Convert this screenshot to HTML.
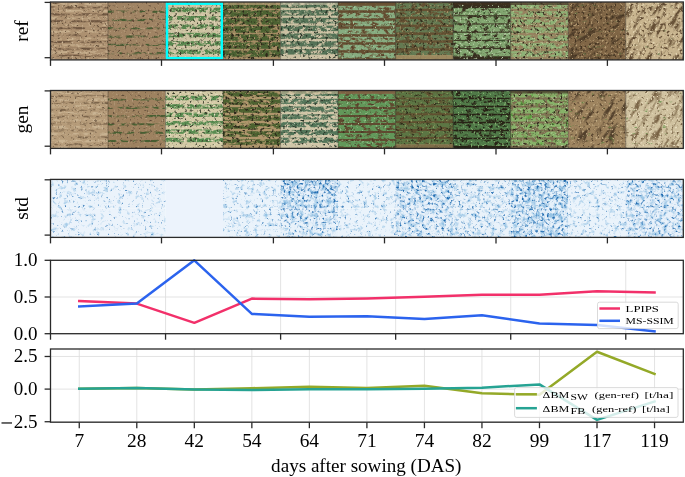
<!DOCTYPE html><html><head><meta charset="utf-8"><style>
html,body{margin:0;padding:0;background:#fff;}svg{display:block;will-change:transform;}
text{font-family:"Liberation Serif", serif;fill:#000;}
</style></head><body>
<svg width="685" height="477" viewBox="0 0 685 477">
<defs><filter id="f0" x="0" y="0" width="1" height="1" color-interpolation-filters="sRGB"><feTurbulence type="fractalNoise" baseFrequency="0.12 0.3" numOctaves="3" seed="101" result="t"/><feColorMatrix in="t" type="matrix" values="0 0 0 0 0  0 0 0 0 0  0 0 0 0 0  5.000 0 0 0 -2.150" result="m"/><feComposite in="SourceGraphic" in2="m" operator="in" result="c"/><feGaussianBlur in="c" stdDeviation="0.6"/></filter><filter id="f1" x="0" y="0" width="1" height="1" color-interpolation-filters="sRGB"><feTurbulence type="fractalNoise" baseFrequency="0.12 0.3" numOctaves="3" seed="102" result="t"/><feColorMatrix in="t" type="matrix" values="0 0 0 0 0  0 0 0 0 0  0 0 0 0 0  5.000 0 0 0 -2.150" result="m"/><feComposite in="SourceGraphic" in2="m" operator="in" result="c"/><feGaussianBlur in="c" stdDeviation="0.6"/></filter><filter id="f2" x="0" y="0" width="1" height="1" color-interpolation-filters="sRGB"><feTurbulence type="fractalNoise" baseFrequency="0.4" numOctaves="2" seed="103" result="t"/><feColorMatrix in="t" type="matrix" values="0 0 0 0 0  0 0 0 0 0  0 0 0 0 0  5.000 0 0 0 -3.100" result="m"/><feComposite in="SourceGraphic" in2="m" operator="in" result="c"/><feGaussianBlur in="c" stdDeviation="0.6"/></filter><filter id="f3" x="0" y="0" width="1" height="1" color-interpolation-filters="sRGB"><feTurbulence type="fractalNoise" baseFrequency="0.5" numOctaves="2" seed="104" result="t"/><feColorMatrix in="t" type="matrix" values="0 0 0 0 0  0 0 0 0 0  0 0 0 0 0  5.000 0 0 0 -3.100" result="m"/><feComposite in="SourceGraphic" in2="m" operator="in" result="c"/><feGaussianBlur in="c" stdDeviation="0.6"/></filter><filter id="f4" x="0" y="0" width="1" height="1" color-interpolation-filters="sRGB"><feTurbulence type="fractalNoise" baseFrequency="0.15 0.35" numOctaves="3" seed="111" result="t"/><feColorMatrix in="t" type="matrix" values="0 0 0 0 0  0 0 0 0 0  0 0 0 0 0  5.000 0 0 0 -2.100" result="m"/><feComposite in="SourceGraphic" in2="m" operator="in" result="c"/><feGaussianBlur in="c" stdDeviation="0.6"/></filter><filter id="f5" x="0" y="0" width="1" height="1" color-interpolation-filters="sRGB"><feTurbulence type="fractalNoise" baseFrequency="0.4" numOctaves="2" seed="112" result="t"/><feColorMatrix in="t" type="matrix" values="0 0 0 0 0  0 0 0 0 0  0 0 0 0 0  5.000 0 0 0 -3.050" result="m"/><feComposite in="SourceGraphic" in2="m" operator="in" result="c"/><feGaussianBlur in="c" stdDeviation="0.6"/></filter><filter id="f6" x="0" y="0" width="1" height="1" color-interpolation-filters="sRGB"><feTurbulence type="fractalNoise" baseFrequency="0.5" numOctaves="2" seed="113" result="t"/><feColorMatrix in="t" type="matrix" values="0 0 0 0 0  0 0 0 0 0  0 0 0 0 0  5.000 0 0 0 -3.150" result="m"/><feComposite in="SourceGraphic" in2="m" operator="in" result="c"/><feGaussianBlur in="c" stdDeviation="0.6"/></filter><filter id="f7" x="0" y="0" width="1" height="1" color-interpolation-filters="sRGB"><feTurbulence type="fractalNoise" baseFrequency="0.18 0.26" numOctaves="3" seed="121" result="t"/><feColorMatrix in="t" type="matrix" values="0 0 0 0 0  0 0 0 0 0  0 0 0 0 0  5.000 0 0 0 -1.700" result="m"/><feComposite in="SourceGraphic" in2="m" operator="in" result="c"/><feGaussianBlur in="c" stdDeviation="0.6"/></filter><filter id="f8" x="0" y="0" width="1" height="1" color-interpolation-filters="sRGB"><feTurbulence type="fractalNoise" baseFrequency="0.4" numOctaves="2" seed="122" result="t"/><feColorMatrix in="t" type="matrix" values="0 0 0 0 0  0 0 0 0 0  0 0 0 0 0  5.000 0 0 0 -2.850" result="m"/><feComposite in="SourceGraphic" in2="m" operator="in" result="c"/><feGaussianBlur in="c" stdDeviation="0.6"/></filter><filter id="f9" x="0" y="0" width="1" height="1" color-interpolation-filters="sRGB"><feTurbulence type="fractalNoise" baseFrequency="0.5" numOctaves="2" seed="123" result="t"/><feColorMatrix in="t" type="matrix" values="0 0 0 0 0  0 0 0 0 0  0 0 0 0 0  5.000 0 0 0 -3.000" result="m"/><feComposite in="SourceGraphic" in2="m" operator="in" result="c"/><feGaussianBlur in="c" stdDeviation="0.6"/></filter><filter id="f10" x="0" y="0" width="1" height="1" color-interpolation-filters="sRGB"><feTurbulence type="fractalNoise" baseFrequency="0.16 0.26" numOctaves="3" seed="131" result="t"/><feColorMatrix in="t" type="matrix" values="0 0 0 0 0  0 0 0 0 0  0 0 0 0 0  5.000 0 0 0 -1.400" result="m"/><feComposite in="SourceGraphic" in2="m" operator="in" result="c"/><feGaussianBlur in="c" stdDeviation="0.6"/></filter><filter id="f11" x="0" y="0" width="1" height="1" color-interpolation-filters="sRGB"><feTurbulence type="fractalNoise" baseFrequency="0.35" numOctaves="2" seed="132" result="t"/><feColorMatrix in="t" type="matrix" values="0 0 0 0 0  0 0 0 0 0  0 0 0 0 0  5.000 0 0 0 -2.700" result="m"/><feComposite in="SourceGraphic" in2="m" operator="in" result="c"/><feGaussianBlur in="c" stdDeviation="0.6"/></filter><filter id="f12" x="0" y="0" width="1" height="1" color-interpolation-filters="sRGB"><feTurbulence type="fractalNoise" baseFrequency="0.45" numOctaves="2" seed="133" result="t"/><feColorMatrix in="t" type="matrix" values="0 0 0 0 0  0 0 0 0 0  0 0 0 0 0  5.000 0 0 0 -3.200" result="m"/><feComposite in="SourceGraphic" in2="m" operator="in" result="c"/><feGaussianBlur in="c" stdDeviation="0.6"/></filter><filter id="f13" x="0" y="0" width="1" height="1" color-interpolation-filters="sRGB"><feTurbulence type="fractalNoise" baseFrequency="0.18 0.26" numOctaves="3" seed="141" result="t"/><feColorMatrix in="t" type="matrix" values="0 0 0 0 0  0 0 0 0 0  0 0 0 0 0  5.000 0 0 0 -1.550" result="m"/><feComposite in="SourceGraphic" in2="m" operator="in" result="c"/><feGaussianBlur in="c" stdDeviation="0.6"/></filter><filter id="f14" x="0" y="0" width="1" height="1" color-interpolation-filters="sRGB"><feTurbulence type="fractalNoise" baseFrequency="0.35" numOctaves="2" seed="142" result="t"/><feColorMatrix in="t" type="matrix" values="0 0 0 0 0  0 0 0 0 0  0 0 0 0 0  5.000 0 0 0 -2.850" result="m"/><feComposite in="SourceGraphic" in2="m" operator="in" result="c"/><feGaussianBlur in="c" stdDeviation="0.6"/></filter><filter id="f15" x="0" y="0" width="1" height="1" color-interpolation-filters="sRGB"><feTurbulence type="fractalNoise" baseFrequency="0.45" numOctaves="2" seed="143" result="t"/><feColorMatrix in="t" type="matrix" values="0 0 0 0 0  0 0 0 0 0  0 0 0 0 0  5.000 0 0 0 -3.300" result="m"/><feComposite in="SourceGraphic" in2="m" operator="in" result="c"/><feGaussianBlur in="c" stdDeviation="0.6"/></filter><filter id="f16" x="0" y="0" width="1" height="1" color-interpolation-filters="sRGB"><feTurbulence type="fractalNoise" baseFrequency="0.18 0.26" numOctaves="3" seed="151" result="t"/><feColorMatrix in="t" type="matrix" values="0 0 0 0 0  0 0 0 0 0  0 0 0 0 0  5.000 0 0 0 -1.600" result="m"/><feComposite in="SourceGraphic" in2="m" operator="in" result="c"/><feGaussianBlur in="c" stdDeviation="0.6"/></filter><filter id="f17" x="0" y="0" width="1" height="1" color-interpolation-filters="sRGB"><feTurbulence type="fractalNoise" baseFrequency="0.35" numOctaves="2" seed="152" result="t"/><feColorMatrix in="t" type="matrix" values="0 0 0 0 0  0 0 0 0 0  0 0 0 0 0  5.000 0 0 0 -3.200" result="m"/><feComposite in="SourceGraphic" in2="m" operator="in" result="c"/><feGaussianBlur in="c" stdDeviation="0.6"/></filter><filter id="f18" x="0" y="0" width="1" height="1" color-interpolation-filters="sRGB"><feTurbulence type="fractalNoise" baseFrequency="0.45" numOctaves="2" seed="153" result="t"/><feColorMatrix in="t" type="matrix" values="0 0 0 0 0  0 0 0 0 0  0 0 0 0 0  5.000 0 0 0 -3.200" result="m"/><feComposite in="SourceGraphic" in2="m" operator="in" result="c"/><feGaussianBlur in="c" stdDeviation="0.6"/></filter><filter id="f19" x="0" y="0" width="1" height="1" color-interpolation-filters="sRGB"><feTurbulence type="fractalNoise" baseFrequency="0.18 0.26" numOctaves="3" seed="161" result="t"/><feColorMatrix in="t" type="matrix" values="0 0 0 0 0  0 0 0 0 0  0 0 0 0 0  5.000 0 0 0 -1.550" result="m"/><feComposite in="SourceGraphic" in2="m" operator="in" result="c"/><feGaussianBlur in="c" stdDeviation="0.6"/></filter><filter id="f20" x="0" y="0" width="1" height="1" color-interpolation-filters="sRGB"><feTurbulence type="fractalNoise" baseFrequency="0.35" numOctaves="2" seed="162" result="t"/><feColorMatrix in="t" type="matrix" values="0 0 0 0 0  0 0 0 0 0  0 0 0 0 0  5.000 0 0 0 -2.900" result="m"/><feComposite in="SourceGraphic" in2="m" operator="in" result="c"/><feGaussianBlur in="c" stdDeviation="0.6"/></filter><filter id="f21" x="0" y="0" width="1" height="1" color-interpolation-filters="sRGB"><feTurbulence type="fractalNoise" baseFrequency="0.45" numOctaves="2" seed="163" result="t"/><feColorMatrix in="t" type="matrix" values="0 0 0 0 0  0 0 0 0 0  0 0 0 0 0  5.000 0 0 0 -3.100" result="m"/><feComposite in="SourceGraphic" in2="m" operator="in" result="c"/><feGaussianBlur in="c" stdDeviation="0.6"/></filter><filter id="f22" x="0" y="0" width="1" height="1" color-interpolation-filters="sRGB"><feTurbulence type="fractalNoise" baseFrequency="0.18 0.26" numOctaves="3" seed="171" result="t"/><feColorMatrix in="t" type="matrix" values="0 0 0 0 0  0 0 0 0 0  0 0 0 0 0  5.000 0 0 0 -1.450" result="m"/><feComposite in="SourceGraphic" in2="m" operator="in" result="c"/><feGaussianBlur in="c" stdDeviation="0.6"/></filter><filter id="f23" x="0" y="0" width="1" height="1" color-interpolation-filters="sRGB"><feTurbulence type="fractalNoise" baseFrequency="0.35" numOctaves="2" seed="172" result="t"/><feColorMatrix in="t" type="matrix" values="0 0 0 0 0  0 0 0 0 0  0 0 0 0 0  5.000 0 0 0 -3.050" result="m"/><feComposite in="SourceGraphic" in2="m" operator="in" result="c"/><feGaussianBlur in="c" stdDeviation="0.6"/></filter><filter id="f24" x="0" y="0" width="1" height="1" color-interpolation-filters="sRGB"><feTurbulence type="fractalNoise" baseFrequency="0.45" numOctaves="2" seed="173" result="t"/><feColorMatrix in="t" type="matrix" values="0 0 0 0 0  0 0 0 0 0  0 0 0 0 0  5.000 0 0 0 -3.000" result="m"/><feComposite in="SourceGraphic" in2="m" operator="in" result="c"/><feGaussianBlur in="c" stdDeviation="0.6"/></filter><filter id="f25" x="0" y="0" width="1" height="1" color-interpolation-filters="sRGB"><feTurbulence type="fractalNoise" baseFrequency="0.18 0.26" numOctaves="3" seed="181" result="t"/><feColorMatrix in="t" type="matrix" values="0 0 0 0 0  0 0 0 0 0  0 0 0 0 0  5.000 0 0 0 -1.700" result="m"/><feComposite in="SourceGraphic" in2="m" operator="in" result="c"/><feGaussianBlur in="c" stdDeviation="0.6"/></filter><filter id="f26" x="0" y="0" width="1" height="1" color-interpolation-filters="sRGB"><feTurbulence type="fractalNoise" baseFrequency="0.35" numOctaves="2" seed="182" result="t"/><feColorMatrix in="t" type="matrix" values="0 0 0 0 0  0 0 0 0 0  0 0 0 0 0  5.000 0 0 0 -2.800" result="m"/><feComposite in="SourceGraphic" in2="m" operator="in" result="c"/><feGaussianBlur in="c" stdDeviation="0.6"/></filter><filter id="f27" x="0" y="0" width="1" height="1" color-interpolation-filters="sRGB"><feTurbulence type="fractalNoise" baseFrequency="0.45" numOctaves="2" seed="183" result="t"/><feColorMatrix in="t" type="matrix" values="0 0 0 0 0  0 0 0 0 0  0 0 0 0 0  5.000 0 0 0 -3.000" result="m"/><feComposite in="SourceGraphic" in2="m" operator="in" result="c"/><feGaussianBlur in="c" stdDeviation="0.6"/></filter><filter id="f28" x="0" y="0" width="1" height="1" color-interpolation-filters="sRGB"><feTurbulence type="fractalNoise" baseFrequency="0.16 0.26" numOctaves="3" seed="191" result="t"/><feColorMatrix in="t" type="matrix" values="0 0 0 0 0  0 0 0 0 0  0 0 0 0 0  5.000 0 0 0 -3.000" result="m"/><feComposite in="SourceGraphic" in2="m" operator="in" result="c"/><feGaussianBlur in="c" stdDeviation="0.6"/></filter><filter id="f29" x="0" y="0" width="1" height="1" color-interpolation-filters="sRGB"><feTurbulence type="fractalNoise" baseFrequency="0.35" numOctaves="2" seed="193" result="t"/><feColorMatrix in="t" type="matrix" values="0 0 0 0 0  0 0 0 0 0  0 0 0 0 0  5.000 0 0 0 -2.800" result="m"/><feComposite in="SourceGraphic" in2="m" operator="in" result="c"/><feGaussianBlur in="c" stdDeviation="0.6"/></filter><filter id="f30" x="0" y="0" width="1" height="1" color-interpolation-filters="sRGB"><feTurbulence type="fractalNoise" baseFrequency="0.45" numOctaves="2" seed="194" result="t"/><feColorMatrix in="t" type="matrix" values="0 0 0 0 0  0 0 0 0 0  0 0 0 0 0  5.000 0 0 0 -2.950" result="m"/><feComposite in="SourceGraphic" in2="m" operator="in" result="c"/><feGaussianBlur in="c" stdDeviation="0.6"/></filter><filter id="f31" x="0" y="0" width="1" height="1" color-interpolation-filters="sRGB"><feTurbulence type="fractalNoise" baseFrequency="0.16 0.26" numOctaves="3" seed="201" result="t"/><feColorMatrix in="t" type="matrix" values="0 0 0 0 0  0 0 0 0 0  0 0 0 0 0  5.000 0 0 0 -3.300" result="m"/><feComposite in="SourceGraphic" in2="m" operator="in" result="c"/><feGaussianBlur in="c" stdDeviation="0.6"/></filter><filter id="f32" x="0" y="0" width="1" height="1" color-interpolation-filters="sRGB"><feTurbulence type="fractalNoise" baseFrequency="0.3" numOctaves="2" seed="203" result="t"/><feColorMatrix in="t" type="matrix" values="0 0 0 0 0  0 0 0 0 0  0 0 0 0 0  5.000 0 0 0 -2.800" result="m"/><feComposite in="SourceGraphic" in2="m" operator="in" result="c"/><feGaussianBlur in="c" stdDeviation="0.6"/></filter><filter id="f33" x="0" y="0" width="1" height="1" color-interpolation-filters="sRGB"><feTurbulence type="fractalNoise" baseFrequency="0.45" numOctaves="2" seed="204" result="t"/><feColorMatrix in="t" type="matrix" values="0 0 0 0 0  0 0 0 0 0  0 0 0 0 0  5.000 0 0 0 -2.900" result="m"/><feComposite in="SourceGraphic" in2="m" operator="in" result="c"/><feGaussianBlur in="c" stdDeviation="0.6"/></filter><filter id="f34" x="0" y="0" width="1" height="1" color-interpolation-filters="sRGB"><feTurbulence type="fractalNoise" baseFrequency="0.12 0.3" numOctaves="3" seed="301" result="t"/><feColorMatrix in="t" type="matrix" values="0 0 0 0 0  0 0 0 0 0  0 0 0 0 0  5.000 0 0 0 -2.200" result="m"/><feComposite in="SourceGraphic" in2="m" operator="in" result="c"/><feGaussianBlur in="c" stdDeviation="0.6"/></filter><filter id="f35" x="0" y="0" width="1" height="1" color-interpolation-filters="sRGB"><feTurbulence type="fractalNoise" baseFrequency="0.12 0.3" numOctaves="3" seed="302" result="t"/><feColorMatrix in="t" type="matrix" values="0 0 0 0 0  0 0 0 0 0  0 0 0 0 0  5.000 0 0 0 -2.200" result="m"/><feComposite in="SourceGraphic" in2="m" operator="in" result="c"/><feGaussianBlur in="c" stdDeviation="0.6"/></filter><filter id="f36" x="0" y="0" width="1" height="1" color-interpolation-filters="sRGB"><feTurbulence type="fractalNoise" baseFrequency="0.4" numOctaves="2" seed="303" result="t"/><feColorMatrix in="t" type="matrix" values="0 0 0 0 0  0 0 0 0 0  0 0 0 0 0  5.000 0 0 0 -3.150" result="m"/><feComposite in="SourceGraphic" in2="m" operator="in" result="c"/><feGaussianBlur in="c" stdDeviation="0.6"/></filter><filter id="f37" x="0" y="0" width="1" height="1" color-interpolation-filters="sRGB"><feTurbulence type="fractalNoise" baseFrequency="0.5" numOctaves="2" seed="304" result="t"/><feColorMatrix in="t" type="matrix" values="0 0 0 0 0  0 0 0 0 0  0 0 0 0 0  5.000 0 0 0 -3.150" result="m"/><feComposite in="SourceGraphic" in2="m" operator="in" result="c"/><feGaussianBlur in="c" stdDeviation="0.6"/></filter><filter id="f38" x="0" y="0" width="1" height="1" color-interpolation-filters="sRGB"><feTurbulence type="fractalNoise" baseFrequency="0.15 0.35" numOctaves="3" seed="311" result="t"/><feColorMatrix in="t" type="matrix" values="0 0 0 0 0  0 0 0 0 0  0 0 0 0 0  5.000 0 0 0 -2.100" result="m"/><feComposite in="SourceGraphic" in2="m" operator="in" result="c"/><feGaussianBlur in="c" stdDeviation="0.6"/></filter><filter id="f39" x="0" y="0" width="1" height="1" color-interpolation-filters="sRGB"><feTurbulence type="fractalNoise" baseFrequency="0.4" numOctaves="2" seed="312" result="t"/><feColorMatrix in="t" type="matrix" values="0 0 0 0 0  0 0 0 0 0  0 0 0 0 0  5.000 0 0 0 -3.100" result="m"/><feComposite in="SourceGraphic" in2="m" operator="in" result="c"/><feGaussianBlur in="c" stdDeviation="0.6"/></filter><filter id="f40" x="0" y="0" width="1" height="1" color-interpolation-filters="sRGB"><feTurbulence type="fractalNoise" baseFrequency="0.5" numOctaves="2" seed="313" result="t"/><feColorMatrix in="t" type="matrix" values="0 0 0 0 0  0 0 0 0 0  0 0 0 0 0  5.000 0 0 0 -3.150" result="m"/><feComposite in="SourceGraphic" in2="m" operator="in" result="c"/><feGaussianBlur in="c" stdDeviation="0.6"/></filter><filter id="f41" x="0" y="0" width="1" height="1" color-interpolation-filters="sRGB"><feTurbulence type="fractalNoise" baseFrequency="0.18 0.26" numOctaves="3" seed="321" result="t"/><feColorMatrix in="t" type="matrix" values="0 0 0 0 0  0 0 0 0 0  0 0 0 0 0  5.000 0 0 0 -1.650" result="m"/><feComposite in="SourceGraphic" in2="m" operator="in" result="c"/><feGaussianBlur in="c" stdDeviation="0.6"/></filter><filter id="f42" x="0" y="0" width="1" height="1" color-interpolation-filters="sRGB"><feTurbulence type="fractalNoise" baseFrequency="0.4" numOctaves="2" seed="322" result="t"/><feColorMatrix in="t" type="matrix" values="0 0 0 0 0  0 0 0 0 0  0 0 0 0 0  5.000 0 0 0 -2.900" result="m"/><feComposite in="SourceGraphic" in2="m" operator="in" result="c"/><feGaussianBlur in="c" stdDeviation="0.6"/></filter><filter id="f43" x="0" y="0" width="1" height="1" color-interpolation-filters="sRGB"><feTurbulence type="fractalNoise" baseFrequency="0.5" numOctaves="2" seed="323" result="t"/><feColorMatrix in="t" type="matrix" values="0 0 0 0 0  0 0 0 0 0  0 0 0 0 0  5.000 0 0 0 -3.000" result="m"/><feComposite in="SourceGraphic" in2="m" operator="in" result="c"/><feGaussianBlur in="c" stdDeviation="0.6"/></filter><filter id="f44" x="0" y="0" width="1" height="1" color-interpolation-filters="sRGB"><feTurbulence type="fractalNoise" baseFrequency="0.12 0.3" numOctaves="3" seed="331" result="t"/><feColorMatrix in="t" type="matrix" values="0 0 0 0 0  0 0 0 0 0  0 0 0 0 0  5.000 0 0 0 -1.550" result="m"/><feComposite in="SourceGraphic" in2="m" operator="in" result="c"/><feGaussianBlur in="c" stdDeviation="0.6"/></filter><filter id="f45" x="0" y="0" width="1" height="1" color-interpolation-filters="sRGB"><feTurbulence type="fractalNoise" baseFrequency="0.35" numOctaves="2" seed="332" result="t"/><feColorMatrix in="t" type="matrix" values="0 0 0 0 0  0 0 0 0 0  0 0 0 0 0  5.000 0 0 0 -2.750" result="m"/><feComposite in="SourceGraphic" in2="m" operator="in" result="c"/><feGaussianBlur in="c" stdDeviation="0.6"/></filter><filter id="f46" x="0" y="0" width="1" height="1" color-interpolation-filters="sRGB"><feTurbulence type="fractalNoise" baseFrequency="0.45" numOctaves="2" seed="333" result="t"/><feColorMatrix in="t" type="matrix" values="0 0 0 0 0  0 0 0 0 0  0 0 0 0 0  5.000 0 0 0 -3.200" result="m"/><feComposite in="SourceGraphic" in2="m" operator="in" result="c"/><feGaussianBlur in="c" stdDeviation="0.6"/></filter><filter id="f47" x="0" y="0" width="1" height="1" color-interpolation-filters="sRGB"><feTurbulence type="fractalNoise" baseFrequency="0.18 0.26" numOctaves="3" seed="341" result="t"/><feColorMatrix in="t" type="matrix" values="0 0 0 0 0  0 0 0 0 0  0 0 0 0 0  5.000 0 0 0 -1.600" result="m"/><feComposite in="SourceGraphic" in2="m" operator="in" result="c"/><feGaussianBlur in="c" stdDeviation="0.6"/></filter><filter id="f48" x="0" y="0" width="1" height="1" color-interpolation-filters="sRGB"><feTurbulence type="fractalNoise" baseFrequency="0.35" numOctaves="2" seed="342" result="t"/><feColorMatrix in="t" type="matrix" values="0 0 0 0 0  0 0 0 0 0  0 0 0 0 0  5.000 0 0 0 -2.900" result="m"/><feComposite in="SourceGraphic" in2="m" operator="in" result="c"/><feGaussianBlur in="c" stdDeviation="0.6"/></filter><filter id="f49" x="0" y="0" width="1" height="1" color-interpolation-filters="sRGB"><feTurbulence type="fractalNoise" baseFrequency="0.45" numOctaves="2" seed="343" result="t"/><feColorMatrix in="t" type="matrix" values="0 0 0 0 0  0 0 0 0 0  0 0 0 0 0  5.000 0 0 0 -3.250" result="m"/><feComposite in="SourceGraphic" in2="m" operator="in" result="c"/><feGaussianBlur in="c" stdDeviation="0.6"/></filter><filter id="f50" x="0" y="0" width="1" height="1" color-interpolation-filters="sRGB"><feTurbulence type="fractalNoise" baseFrequency="0.18 0.26" numOctaves="3" seed="351" result="t"/><feColorMatrix in="t" type="matrix" values="0 0 0 0 0  0 0 0 0 0  0 0 0 0 0  5.000 0 0 0 -1.450" result="m"/><feComposite in="SourceGraphic" in2="m" operator="in" result="c"/><feGaussianBlur in="c" stdDeviation="0.6"/></filter><filter id="f51" x="0" y="0" width="1" height="1" color-interpolation-filters="sRGB"><feTurbulence type="fractalNoise" baseFrequency="0.35" numOctaves="2" seed="352" result="t"/><feColorMatrix in="t" type="matrix" values="0 0 0 0 0  0 0 0 0 0  0 0 0 0 0  5.000 0 0 0 -3.150" result="m"/><feComposite in="SourceGraphic" in2="m" operator="in" result="c"/><feGaussianBlur in="c" stdDeviation="0.6"/></filter><filter id="f52" x="0" y="0" width="1" height="1" color-interpolation-filters="sRGB"><feTurbulence type="fractalNoise" baseFrequency="0.45" numOctaves="2" seed="353" result="t"/><feColorMatrix in="t" type="matrix" values="0 0 0 0 0  0 0 0 0 0  0 0 0 0 0  5.000 0 0 0 -3.150" result="m"/><feComposite in="SourceGraphic" in2="m" operator="in" result="c"/><feGaussianBlur in="c" stdDeviation="0.6"/></filter><filter id="f53" x="0" y="0" width="1" height="1" color-interpolation-filters="sRGB"><feTurbulence type="fractalNoise" baseFrequency="0.18 0.26" numOctaves="3" seed="361" result="t"/><feColorMatrix in="t" type="matrix" values="0 0 0 0 0  0 0 0 0 0  0 0 0 0 0  5.000 0 0 0 -1.400" result="m"/><feComposite in="SourceGraphic" in2="m" operator="in" result="c"/><feGaussianBlur in="c" stdDeviation="0.6"/></filter><filter id="f54" x="0" y="0" width="1" height="1" color-interpolation-filters="sRGB"><feTurbulence type="fractalNoise" baseFrequency="0.35" numOctaves="2" seed="362" result="t"/><feColorMatrix in="t" type="matrix" values="0 0 0 0 0  0 0 0 0 0  0 0 0 0 0  5.000 0 0 0 -2.850" result="m"/><feComposite in="SourceGraphic" in2="m" operator="in" result="c"/><feGaussianBlur in="c" stdDeviation="0.6"/></filter><filter id="f55" x="0" y="0" width="1" height="1" color-interpolation-filters="sRGB"><feTurbulence type="fractalNoise" baseFrequency="0.45" numOctaves="2" seed="363" result="t"/><feColorMatrix in="t" type="matrix" values="0 0 0 0 0  0 0 0 0 0  0 0 0 0 0  5.000 0 0 0 -3.200" result="m"/><feComposite in="SourceGraphic" in2="m" operator="in" result="c"/><feGaussianBlur in="c" stdDeviation="0.6"/></filter><filter id="f56" x="0" y="0" width="1" height="1" color-interpolation-filters="sRGB"><feTurbulence type="fractalNoise" baseFrequency="0.18 0.26" numOctaves="3" seed="371" result="t"/><feColorMatrix in="t" type="matrix" values="0 0 0 0 0  0 0 0 0 0  0 0 0 0 0  5.000 0 0 0 -1.350" result="m"/><feComposite in="SourceGraphic" in2="m" operator="in" result="c"/><feGaussianBlur in="c" stdDeviation="0.6"/></filter><filter id="f57" x="0" y="0" width="1" height="1" color-interpolation-filters="sRGB"><feTurbulence type="fractalNoise" baseFrequency="0.35" numOctaves="2" seed="372" result="t"/><feColorMatrix in="t" type="matrix" values="0 0 0 0 0  0 0 0 0 0  0 0 0 0 0  5.000 0 0 0 -3.100" result="m"/><feComposite in="SourceGraphic" in2="m" operator="in" result="c"/><feGaussianBlur in="c" stdDeviation="0.6"/></filter><filter id="f58" x="0" y="0" width="1" height="1" color-interpolation-filters="sRGB"><feTurbulence type="fractalNoise" baseFrequency="0.45" numOctaves="2" seed="373" result="t"/><feColorMatrix in="t" type="matrix" values="0 0 0 0 0  0 0 0 0 0  0 0 0 0 0  5.000 0 0 0 -3.000" result="m"/><feComposite in="SourceGraphic" in2="m" operator="in" result="c"/><feGaussianBlur in="c" stdDeviation="0.6"/></filter><filter id="f59" x="0" y="0" width="1" height="1" color-interpolation-filters="sRGB"><feTurbulence type="fractalNoise" baseFrequency="0.18 0.26" numOctaves="3" seed="381" result="t"/><feColorMatrix in="t" type="matrix" values="0 0 0 0 0  0 0 0 0 0  0 0 0 0 0  5.000 0 0 0 -1.600" result="m"/><feComposite in="SourceGraphic" in2="m" operator="in" result="c"/><feGaussianBlur in="c" stdDeviation="0.6"/></filter><filter id="f60" x="0" y="0" width="1" height="1" color-interpolation-filters="sRGB"><feTurbulence type="fractalNoise" baseFrequency="0.35" numOctaves="2" seed="382" result="t"/><feColorMatrix in="t" type="matrix" values="0 0 0 0 0  0 0 0 0 0  0 0 0 0 0  5.000 0 0 0 -2.850" result="m"/><feComposite in="SourceGraphic" in2="m" operator="in" result="c"/><feGaussianBlur in="c" stdDeviation="0.6"/></filter><filter id="f61" x="0" y="0" width="1" height="1" color-interpolation-filters="sRGB"><feTurbulence type="fractalNoise" baseFrequency="0.45" numOctaves="2" seed="383" result="t"/><feColorMatrix in="t" type="matrix" values="0 0 0 0 0  0 0 0 0 0  0 0 0 0 0  5.000 0 0 0 -3.000" result="m"/><feComposite in="SourceGraphic" in2="m" operator="in" result="c"/><feGaussianBlur in="c" stdDeviation="0.6"/></filter><filter id="f62" x="0" y="0" width="1" height="1" color-interpolation-filters="sRGB"><feTurbulence type="fractalNoise" baseFrequency="0.15" numOctaves="2" seed="384" result="t"/><feColorMatrix in="t" type="matrix" values="0 0 0 0 0  0 0 0 0 0  0 0 0 0 0  5.000 0 0 0 -3.300" result="m"/><feComposite in="SourceGraphic" in2="m" operator="in" result="c"/><feGaussianBlur in="c" stdDeviation="0.6"/></filter><filter id="f63" x="0" y="0" width="1" height="1" color-interpolation-filters="sRGB"><feTurbulence type="fractalNoise" baseFrequency="0.16 0.26" numOctaves="3" seed="391" result="t"/><feColorMatrix in="t" type="matrix" values="0 0 0 0 0  0 0 0 0 0  0 0 0 0 0  5.000 0 0 0 -3.200" result="m"/><feComposite in="SourceGraphic" in2="m" operator="in" result="c"/><feGaussianBlur in="c" stdDeviation="0.6"/></filter><filter id="f64" x="0" y="0" width="1" height="1" color-interpolation-filters="sRGB"><feTurbulence type="fractalNoise" baseFrequency="0.35" numOctaves="2" seed="393" result="t"/><feColorMatrix in="t" type="matrix" values="0 0 0 0 0  0 0 0 0 0  0 0 0 0 0  5.000 0 0 0 -2.900" result="m"/><feComposite in="SourceGraphic" in2="m" operator="in" result="c"/><feGaussianBlur in="c" stdDeviation="0.6"/></filter><filter id="f65" x="0" y="0" width="1" height="1" color-interpolation-filters="sRGB"><feTurbulence type="fractalNoise" baseFrequency="0.45" numOctaves="2" seed="394" result="t"/><feColorMatrix in="t" type="matrix" values="0 0 0 0 0  0 0 0 0 0  0 0 0 0 0  5.000 0 0 0 -3.000" result="m"/><feComposite in="SourceGraphic" in2="m" operator="in" result="c"/><feGaussianBlur in="c" stdDeviation="0.6"/></filter><filter id="f66" x="0" y="0" width="1" height="1" color-interpolation-filters="sRGB"><feTurbulence type="fractalNoise" baseFrequency="0.12" numOctaves="2" seed="395" result="t"/><feColorMatrix in="t" type="matrix" values="0 0 0 0 0  0 0 0 0 0  0 0 0 0 0  5.000 0 0 0 -3.500" result="m"/><feComposite in="SourceGraphic" in2="m" operator="in" result="c"/><feGaussianBlur in="c" stdDeviation="0.6"/></filter><filter id="f67" x="0" y="0" width="1" height="1" color-interpolation-filters="sRGB"><feTurbulence type="fractalNoise" baseFrequency="0.16 0.26" numOctaves="3" seed="401" result="t"/><feColorMatrix in="t" type="matrix" values="0 0 0 0 0  0 0 0 0 0  0 0 0 0 0  5.000 0 0 0 -3.200" result="m"/><feComposite in="SourceGraphic" in2="m" operator="in" result="c"/><feGaussianBlur in="c" stdDeviation="0.6"/></filter><filter id="f68" x="0" y="0" width="1" height="1" color-interpolation-filters="sRGB"><feTurbulence type="fractalNoise" baseFrequency="0.35" numOctaves="2" seed="403" result="t"/><feColorMatrix in="t" type="matrix" values="0 0 0 0 0  0 0 0 0 0  0 0 0 0 0  5.000 0 0 0 -2.900" result="m"/><feComposite in="SourceGraphic" in2="m" operator="in" result="c"/><feGaussianBlur in="c" stdDeviation="0.6"/></filter><filter id="f69" x="0" y="0" width="1" height="1" color-interpolation-filters="sRGB"><feTurbulence type="fractalNoise" baseFrequency="0.45" numOctaves="2" seed="404" result="t"/><feColorMatrix in="t" type="matrix" values="0 0 0 0 0  0 0 0 0 0  0 0 0 0 0  5.000 0 0 0 -2.900" result="m"/><feComposite in="SourceGraphic" in2="m" operator="in" result="c"/><feGaussianBlur in="c" stdDeviation="0.6"/></filter><filter id="f70" x="0" y="0" width="1" height="1" color-interpolation-filters="sRGB"><feTurbulence type="fractalNoise" baseFrequency="0.22" numOctaves="3" seed="20" result="t"/><feColorMatrix in="t" type="matrix" values="0 0 0 0 0  0 0 0 0 0  0 0 0 0 0  3.000 0 0 0 -1.650" result="m"/><feComposite in="SourceGraphic" in2="m" operator="in" result="c"/><feGaussianBlur in="c" stdDeviation="0.6"/></filter><filter id="f71" x="0" y="0" width="1" height="1" color-interpolation-filters="sRGB"><feTurbulence type="fractalNoise" baseFrequency="0.36" numOctaves="2" seed="40" result="t"/><feColorMatrix in="t" type="matrix" values="0 0 0 0 0  0 0 0 0 0  0 0 0 0 0  4.000 0 0 0 -2.600" result="m"/><feComposite in="SourceGraphic" in2="m" operator="in" result="c"/><feGaussianBlur in="c" stdDeviation="0.6"/></filter><filter id="f72" x="0" y="0" width="1" height="1" color-interpolation-filters="sRGB"><feTurbulence type="fractalNoise" baseFrequency="0.22" numOctaves="3" seed="20" result="t"/><feColorMatrix in="t" type="matrix" values="0 0 0 0 0  0 0 0 0 0  0 0 0 0 0  3.000 0 0 0 -1.680" result="m"/><feComposite in="SourceGraphic" in2="m" operator="in" result="c"/><feGaussianBlur in="c" stdDeviation="0.6"/></filter><filter id="f73" x="0" y="0" width="1" height="1" color-interpolation-filters="sRGB"><feTurbulence type="fractalNoise" baseFrequency="0.36" numOctaves="2" seed="40" result="t"/><feColorMatrix in="t" type="matrix" values="0 0 0 0 0  0 0 0 0 0  0 0 0 0 0  4.000 0 0 0 -2.640" result="m"/><feComposite in="SourceGraphic" in2="m" operator="in" result="c"/><feGaussianBlur in="c" stdDeviation="0.6"/></filter><filter id="f74" x="0" y="0" width="1" height="1" color-interpolation-filters="sRGB"><feTurbulence type="fractalNoise" baseFrequency="0.22" numOctaves="3" seed="20" result="t"/><feColorMatrix in="t" type="matrix" values="0 0 0 0 0  0 0 0 0 0  0 0 0 0 0  3.000 0 0 0 -1.710" result="m"/><feComposite in="SourceGraphic" in2="m" operator="in" result="c"/><feGaussianBlur in="c" stdDeviation="0.6"/></filter><filter id="f75" x="0" y="0" width="1" height="1" color-interpolation-filters="sRGB"><feTurbulence type="fractalNoise" baseFrequency="0.22" numOctaves="3" seed="21" result="t"/><feColorMatrix in="t" type="matrix" values="0 0 0 0 0  0 0 0 0 0  0 0 0 0 0  3.000 0 0 0 -1.740" result="m"/><feComposite in="SourceGraphic" in2="m" operator="in" result="c"/><feGaussianBlur in="c" stdDeviation="0.6"/></filter><filter id="f76" x="0" y="0" width="1" height="1" color-interpolation-filters="sRGB"><feTurbulence type="fractalNoise" baseFrequency="0.36" numOctaves="2" seed="41" result="t"/><feColorMatrix in="t" type="matrix" values="0 0 0 0 0  0 0 0 0 0  0 0 0 0 0  4.000 0 0 0 -2.680" result="m"/><feComposite in="SourceGraphic" in2="m" operator="in" result="c"/><feGaussianBlur in="c" stdDeviation="0.6"/></filter><filter id="f77" x="0" y="0" width="1" height="1" color-interpolation-filters="sRGB"><feTurbulence type="fractalNoise" baseFrequency="0.22" numOctaves="3" seed="23" result="t"/><feColorMatrix in="t" type="matrix" values="0 0 0 0 0  0 0 0 0 0  0 0 0 0 0  3.000 0 0 0 -1.650" result="m"/><feComposite in="SourceGraphic" in2="m" operator="in" result="c"/><feGaussianBlur in="c" stdDeviation="0.6"/></filter><filter id="f78" x="0" y="0" width="1" height="1" color-interpolation-filters="sRGB"><feTurbulence type="fractalNoise" baseFrequency="0.36" numOctaves="2" seed="43" result="t"/><feColorMatrix in="t" type="matrix" values="0 0 0 0 0  0 0 0 0 0  0 0 0 0 0  4.000 0 0 0 -2.600" result="m"/><feComposite in="SourceGraphic" in2="m" operator="in" result="c"/><feGaussianBlur in="c" stdDeviation="0.6"/></filter><filter id="f79" x="0" y="0" width="1" height="1" color-interpolation-filters="sRGB"><feTurbulence type="fractalNoise" baseFrequency="0.36" numOctaves="2" seed="43" result="t"/><feColorMatrix in="t" type="matrix" values="0 0 0 0 0  0 0 0 0 0  0 0 0 0 0  4.000 0 0 0 -2.560" result="m"/><feComposite in="SourceGraphic" in2="m" operator="in" result="c"/><feGaussianBlur in="c" stdDeviation="0.6"/></filter><filter id="f80" x="0" y="0" width="1" height="1" color-interpolation-filters="sRGB"><feTurbulence type="fractalNoise" baseFrequency="0.22" numOctaves="3" seed="23" result="t"/><feColorMatrix in="t" type="matrix" values="0 0 0 0 0  0 0 0 0 0  0 0 0 0 0  3.000 0 0 0 -1.620" result="m"/><feComposite in="SourceGraphic" in2="m" operator="in" result="c"/><feGaussianBlur in="c" stdDeviation="0.6"/></filter><filter id="f81" x="0" y="0" width="1" height="1" color-interpolation-filters="sRGB"><feTurbulence type="fractalNoise" baseFrequency="0.22" numOctaves="3" seed="24" result="t"/><feColorMatrix in="t" type="matrix" values="0 0 0 0 0  0 0 0 0 0  0 0 0 0 0  3.000 0 0 0 -1.230" result="m"/><feComposite in="SourceGraphic" in2="m" operator="in" result="c"/><feGaussianBlur in="c" stdDeviation="0.6"/></filter><filter id="f82" x="0" y="0" width="1" height="1" color-interpolation-filters="sRGB"><feTurbulence type="fractalNoise" baseFrequency="0.36" numOctaves="2" seed="44" result="t"/><feColorMatrix in="t" type="matrix" values="0 0 0 0 0  0 0 0 0 0  0 0 0 0 0  4.000 0 0 0 -2.040" result="m"/><feComposite in="SourceGraphic" in2="m" operator="in" result="c"/><feGaussianBlur in="c" stdDeviation="0.6"/></filter><filter id="f83" x="0" y="0" width="1" height="1" color-interpolation-filters="sRGB"><feTurbulence type="fractalNoise" baseFrequency="0.22" numOctaves="3" seed="24" result="t"/><feColorMatrix in="t" type="matrix" values="0 0 0 0 0  0 0 0 0 0  0 0 0 0 0  3.000 0 0 0 -1.290" result="m"/><feComposite in="SourceGraphic" in2="m" operator="in" result="c"/><feGaussianBlur in="c" stdDeviation="0.6"/></filter><filter id="f84" x="0" y="0" width="1" height="1" color-interpolation-filters="sRGB"><feTurbulence type="fractalNoise" baseFrequency="0.36" numOctaves="2" seed="44" result="t"/><feColorMatrix in="t" type="matrix" values="0 0 0 0 0  0 0 0 0 0  0 0 0 0 0  4.000 0 0 0 -2.160" result="m"/><feComposite in="SourceGraphic" in2="m" operator="in" result="c"/><feGaussianBlur in="c" stdDeviation="0.6"/></filter><filter id="f85" x="0" y="0" width="1" height="1" color-interpolation-filters="sRGB"><feTurbulence type="fractalNoise" baseFrequency="0.22" numOctaves="3" seed="24" result="t"/><feColorMatrix in="t" type="matrix" values="0 0 0 0 0  0 0 0 0 0  0 0 0 0 0  3.000 0 0 0 -1.380" result="m"/><feComposite in="SourceGraphic" in2="m" operator="in" result="c"/><feGaussianBlur in="c" stdDeviation="0.6"/></filter><filter id="f86" x="0" y="0" width="1" height="1" color-interpolation-filters="sRGB"><feTurbulence type="fractalNoise" baseFrequency="0.36" numOctaves="2" seed="44" result="t"/><feColorMatrix in="t" type="matrix" values="0 0 0 0 0  0 0 0 0 0  0 0 0 0 0  4.000 0 0 0 -2.240" result="m"/><feComposite in="SourceGraphic" in2="m" operator="in" result="c"/><feGaussianBlur in="c" stdDeviation="0.6"/></filter><filter id="f87" x="0" y="0" width="1" height="1" color-interpolation-filters="sRGB"><feTurbulence type="fractalNoise" baseFrequency="0.22" numOctaves="3" seed="24" result="t"/><feColorMatrix in="t" type="matrix" values="0 0 0 0 0  0 0 0 0 0  0 0 0 0 0  3.000 0 0 0 -1.470" result="m"/><feComposite in="SourceGraphic" in2="m" operator="in" result="c"/><feGaussianBlur in="c" stdDeviation="0.6"/></filter><filter id="f88" x="0" y="0" width="1" height="1" color-interpolation-filters="sRGB"><feTurbulence type="fractalNoise" baseFrequency="0.36" numOctaves="2" seed="44" result="t"/><feColorMatrix in="t" type="matrix" values="0 0 0 0 0  0 0 0 0 0  0 0 0 0 0  4.000 0 0 0 -2.360" result="m"/><feComposite in="SourceGraphic" in2="m" operator="in" result="c"/><feGaussianBlur in="c" stdDeviation="0.6"/></filter><filter id="f89" x="0" y="0" width="1" height="1" color-interpolation-filters="sRGB"><feTurbulence type="fractalNoise" baseFrequency="0.22" numOctaves="3" seed="25" result="t"/><feColorMatrix in="t" type="matrix" values="0 0 0 0 0  0 0 0 0 0  0 0 0 0 0  3.000 0 0 0 -1.650" result="m"/><feComposite in="SourceGraphic" in2="m" operator="in" result="c"/><feGaussianBlur in="c" stdDeviation="0.6"/></filter><filter id="f90" x="0" y="0" width="1" height="1" color-interpolation-filters="sRGB"><feTurbulence type="fractalNoise" baseFrequency="0.36" numOctaves="2" seed="45" result="t"/><feColorMatrix in="t" type="matrix" values="0 0 0 0 0  0 0 0 0 0  0 0 0 0 0  4.000 0 0 0 -2.560" result="m"/><feComposite in="SourceGraphic" in2="m" operator="in" result="c"/><feGaussianBlur in="c" stdDeviation="0.6"/></filter><filter id="f91" x="0" y="0" width="1" height="1" color-interpolation-filters="sRGB"><feTurbulence type="fractalNoise" baseFrequency="0.22" numOctaves="3" seed="26" result="t"/><feColorMatrix in="t" type="matrix" values="0 0 0 0 0  0 0 0 0 0  0 0 0 0 0  3.000 0 0 0 -1.320" result="m"/><feComposite in="SourceGraphic" in2="m" operator="in" result="c"/><feGaussianBlur in="c" stdDeviation="0.6"/></filter><filter id="f92" x="0" y="0" width="1" height="1" color-interpolation-filters="sRGB"><feTurbulence type="fractalNoise" baseFrequency="0.36" numOctaves="2" seed="46" result="t"/><feColorMatrix in="t" type="matrix" values="0 0 0 0 0  0 0 0 0 0  0 0 0 0 0  4.000 0 0 0 -2.160" result="m"/><feComposite in="SourceGraphic" in2="m" operator="in" result="c"/><feGaussianBlur in="c" stdDeviation="0.6"/></filter><filter id="f93" x="0" y="0" width="1" height="1" color-interpolation-filters="sRGB"><feTurbulence type="fractalNoise" baseFrequency="0.22" numOctaves="3" seed="26" result="t"/><feColorMatrix in="t" type="matrix" values="0 0 0 0 0  0 0 0 0 0  0 0 0 0 0  3.000 0 0 0 -1.350" result="m"/><feComposite in="SourceGraphic" in2="m" operator="in" result="c"/><feGaussianBlur in="c" stdDeviation="0.6"/></filter><filter id="f94" x="0" y="0" width="1" height="1" color-interpolation-filters="sRGB"><feTurbulence type="fractalNoise" baseFrequency="0.36" numOctaves="2" seed="46" result="t"/><feColorMatrix in="t" type="matrix" values="0 0 0 0 0  0 0 0 0 0  0 0 0 0 0  4.000 0 0 0 -2.200" result="m"/><feComposite in="SourceGraphic" in2="m" operator="in" result="c"/><feGaussianBlur in="c" stdDeviation="0.6"/></filter><filter id="f95" x="0" y="0" width="1" height="1" color-interpolation-filters="sRGB"><feTurbulence type="fractalNoise" baseFrequency="0.22" numOctaves="3" seed="26" result="t"/><feColorMatrix in="t" type="matrix" values="0 0 0 0 0  0 0 0 0 0  0 0 0 0 0  3.000 0 0 0 -1.410" result="m"/><feComposite in="SourceGraphic" in2="m" operator="in" result="c"/><feGaussianBlur in="c" stdDeviation="0.6"/></filter><filter id="f96" x="0" y="0" width="1" height="1" color-interpolation-filters="sRGB"><feTurbulence type="fractalNoise" baseFrequency="0.36" numOctaves="2" seed="46" result="t"/><feColorMatrix in="t" type="matrix" values="0 0 0 0 0  0 0 0 0 0  0 0 0 0 0  4.000 0 0 0 -2.280" result="m"/><feComposite in="SourceGraphic" in2="m" operator="in" result="c"/><feGaussianBlur in="c" stdDeviation="0.6"/></filter><filter id="f97" x="0" y="0" width="1" height="1" color-interpolation-filters="sRGB"><feTurbulence type="fractalNoise" baseFrequency="0.22" numOctaves="3" seed="26" result="t"/><feColorMatrix in="t" type="matrix" values="0 0 0 0 0  0 0 0 0 0  0 0 0 0 0  3.000 0 0 0 -1.440" result="m"/><feComposite in="SourceGraphic" in2="m" operator="in" result="c"/><feGaussianBlur in="c" stdDeviation="0.6"/></filter><filter id="f98" x="0" y="0" width="1" height="1" color-interpolation-filters="sRGB"><feTurbulence type="fractalNoise" baseFrequency="0.36" numOctaves="2" seed="46" result="t"/><feColorMatrix in="t" type="matrix" values="0 0 0 0 0  0 0 0 0 0  0 0 0 0 0  4.000 0 0 0 -2.320" result="m"/><feComposite in="SourceGraphic" in2="m" operator="in" result="c"/><feGaussianBlur in="c" stdDeviation="0.6"/></filter><filter id="f99" x="0" y="0" width="1" height="1" color-interpolation-filters="sRGB"><feTurbulence type="fractalNoise" baseFrequency="0.22" numOctaves="3" seed="27" result="t"/><feColorMatrix in="t" type="matrix" values="0 0 0 0 0  0 0 0 0 0  0 0 0 0 0  3.000 0 0 0 -1.500" result="m"/><feComposite in="SourceGraphic" in2="m" operator="in" result="c"/><feGaussianBlur in="c" stdDeviation="0.6"/></filter><filter id="f100" x="0" y="0" width="1" height="1" color-interpolation-filters="sRGB"><feTurbulence type="fractalNoise" baseFrequency="0.36" numOctaves="2" seed="47" result="t"/><feColorMatrix in="t" type="matrix" values="0 0 0 0 0  0 0 0 0 0  0 0 0 0 0  4.000 0 0 0 -2.400" result="m"/><feComposite in="SourceGraphic" in2="m" operator="in" result="c"/><feGaussianBlur in="c" stdDeviation="0.6"/></filter><filter id="f101" x="0" y="0" width="1" height="1" color-interpolation-filters="sRGB"><feTurbulence type="fractalNoise" baseFrequency="0.22" numOctaves="3" seed="28" result="t"/><feColorMatrix in="t" type="matrix" values="0 0 0 0 0  0 0 0 0 0  0 0 0 0 0  3.000 0 0 0 -1.230" result="m"/><feComposite in="SourceGraphic" in2="m" operator="in" result="c"/><feGaussianBlur in="c" stdDeviation="0.6"/></filter><filter id="f102" x="0" y="0" width="1" height="1" color-interpolation-filters="sRGB"><feTurbulence type="fractalNoise" baseFrequency="0.36" numOctaves="2" seed="48" result="t"/><feColorMatrix in="t" type="matrix" values="0 0 0 0 0  0 0 0 0 0  0 0 0 0 0  4.000 0 0 0 -2.080" result="m"/><feComposite in="SourceGraphic" in2="m" operator="in" result="c"/><feGaussianBlur in="c" stdDeviation="0.6"/></filter><filter id="f103" x="0" y="0" width="1" height="1" color-interpolation-filters="sRGB"><feTurbulence type="fractalNoise" baseFrequency="0.22" numOctaves="3" seed="28" result="t"/><feColorMatrix in="t" type="matrix" values="0 0 0 0 0  0 0 0 0 0  0 0 0 0 0  3.000 0 0 0 -1.260" result="m"/><feComposite in="SourceGraphic" in2="m" operator="in" result="c"/><feGaussianBlur in="c" stdDeviation="0.6"/></filter><filter id="f104" x="0" y="0" width="1" height="1" color-interpolation-filters="sRGB"><feTurbulence type="fractalNoise" baseFrequency="0.36" numOctaves="2" seed="48" result="t"/><feColorMatrix in="t" type="matrix" values="0 0 0 0 0  0 0 0 0 0  0 0 0 0 0  4.000 0 0 0 -2.120" result="m"/><feComposite in="SourceGraphic" in2="m" operator="in" result="c"/><feGaussianBlur in="c" stdDeviation="0.6"/></filter><filter id="f105" x="0" y="0" width="1" height="1" color-interpolation-filters="sRGB"><feTurbulence type="fractalNoise" baseFrequency="0.22" numOctaves="3" seed="28" result="t"/><feColorMatrix in="t" type="matrix" values="0 0 0 0 0  0 0 0 0 0  0 0 0 0 0  3.000 0 0 0 -1.290" result="m"/><feComposite in="SourceGraphic" in2="m" operator="in" result="c"/><feGaussianBlur in="c" stdDeviation="0.6"/></filter><filter id="f106" x="0" y="0" width="1" height="1" color-interpolation-filters="sRGB"><feTurbulence type="fractalNoise" baseFrequency="0.36" numOctaves="2" seed="48" result="t"/><feColorMatrix in="t" type="matrix" values="0 0 0 0 0  0 0 0 0 0  0 0 0 0 0  4.000 0 0 0 -2.160" result="m"/><feComposite in="SourceGraphic" in2="m" operator="in" result="c"/><feGaussianBlur in="c" stdDeviation="0.6"/></filter><filter id="f107" x="0" y="0" width="1" height="1" color-interpolation-filters="sRGB"><feTurbulence type="fractalNoise" baseFrequency="0.22" numOctaves="3" seed="29" result="t"/><feColorMatrix in="t" type="matrix" values="0 0 0 0 0  0 0 0 0 0  0 0 0 0 0  3.000 0 0 0 -1.620" result="m"/><feComposite in="SourceGraphic" in2="m" operator="in" result="c"/><feGaussianBlur in="c" stdDeviation="0.6"/></filter><filter id="f108" x="0" y="0" width="1" height="1" color-interpolation-filters="sRGB"><feTurbulence type="fractalNoise" baseFrequency="0.36" numOctaves="2" seed="49" result="t"/><feColorMatrix in="t" type="matrix" values="0 0 0 0 0  0 0 0 0 0  0 0 0 0 0  4.000 0 0 0 -2.560" result="m"/><feComposite in="SourceGraphic" in2="m" operator="in" result="c"/><feGaussianBlur in="c" stdDeviation="0.6"/></filter><filter id="f109" x="0" y="0" width="1" height="1" color-interpolation-filters="sRGB"><feTurbulence type="fractalNoise" baseFrequency="0.22" numOctaves="3" seed="30" result="t"/><feColorMatrix in="t" type="matrix" values="0 0 0 0 0  0 0 0 0 0  0 0 0 0 0  3.000 0 0 0 -1.350" result="m"/><feComposite in="SourceGraphic" in2="m" operator="in" result="c"/><feGaussianBlur in="c" stdDeviation="0.6"/></filter><filter id="f110" x="0" y="0" width="1" height="1" color-interpolation-filters="sRGB"><feTurbulence type="fractalNoise" baseFrequency="0.36" numOctaves="2" seed="50" result="t"/><feColorMatrix in="t" type="matrix" values="0 0 0 0 0  0 0 0 0 0  0 0 0 0 0  4.000 0 0 0 -2.200" result="m"/><feComposite in="SourceGraphic" in2="m" operator="in" result="c"/><feGaussianBlur in="c" stdDeviation="0.6"/></filter><filter id="f111" x="0" y="0" width="1" height="1" color-interpolation-filters="sRGB"><feTurbulence type="fractalNoise" baseFrequency="0.22" numOctaves="3" seed="30" result="t"/><feColorMatrix in="t" type="matrix" values="0 0 0 0 0  0 0 0 0 0  0 0 0 0 0  3.000 0 0 0 -1.380" result="m"/><feComposite in="SourceGraphic" in2="m" operator="in" result="c"/><feGaussianBlur in="c" stdDeviation="0.6"/></filter><filter id="f112" x="0" y="0" width="1" height="1" color-interpolation-filters="sRGB"><feTurbulence type="fractalNoise" baseFrequency="0.36" numOctaves="2" seed="50" result="t"/><feColorMatrix in="t" type="matrix" values="0 0 0 0 0  0 0 0 0 0  0 0 0 0 0  4.000 0 0 0 -2.240" result="m"/><feComposite in="SourceGraphic" in2="m" operator="in" result="c"/><feGaussianBlur in="c" stdDeviation="0.6"/></filter><filter id="f113" x="0" y="0" width="1" height="1" color-interpolation-filters="sRGB"><feTurbulence type="fractalNoise" baseFrequency="0.36" numOctaves="2" seed="50" result="t"/><feColorMatrix in="t" type="matrix" values="0 0 0 0 0  0 0 0 0 0  0 0 0 0 0  4.000 0 0 0 -2.280" result="m"/><feComposite in="SourceGraphic" in2="m" operator="in" result="c"/><feGaussianBlur in="c" stdDeviation="0.6"/></filter><filter id="f114" x="0" y="0" width="1" height="1" color-interpolation-filters="sRGB"><feTurbulence type="fractalNoise" baseFrequency="0.22" numOctaves="3" seed="30" result="t"/><feColorMatrix in="t" type="matrix" values="0 0 0 0 0  0 0 0 0 0  0 0 0 0 0  3.000 0 0 0 -1.410" result="m"/><feComposite in="SourceGraphic" in2="m" operator="in" result="c"/><feGaussianBlur in="c" stdDeviation="0.6"/></filter><filter id="s0" x="0" y="0" width="1" height="1" color-interpolation-filters="sRGB"><feTurbulence type="fractalNoise" baseFrequency="0.07 0.22" numOctaves="2" seed="192" result="t"/><feColorMatrix in="t" type="matrix" values="0 0 0 0 0  0 0 0 0 0  0 0 0 0 0  5.000 0 0 0 -2.700" result="m"/><feComposite in="SourceGraphic" in2="m" operator="in" result="c"/><feGaussianBlur in="c" stdDeviation="0.5"/></filter><filter id="s1" x="0" y="0" width="1" height="1" color-interpolation-filters="sRGB"><feTurbulence type="fractalNoise" baseFrequency="0.06 0.22" numOctaves="2" seed="202" result="t"/><feColorMatrix in="t" type="matrix" values="0 0 0 0 0  0 0 0 0 0  0 0 0 0 0  5.000 0 0 0 -2.600" result="m"/><feComposite in="SourceGraphic" in2="m" operator="in" result="c"/><feGaussianBlur in="c" stdDeviation="0.5"/></filter><filter id="s2" x="0" y="0" width="1" height="1" color-interpolation-filters="sRGB"><feTurbulence type="fractalNoise" baseFrequency="0.06 0.22" numOctaves="2" seed="392" result="t"/><feColorMatrix in="t" type="matrix" values="0 0 0 0 0  0 0 0 0 0  0 0 0 0 0  5.000 0 0 0 -2.650" result="m"/><feComposite in="SourceGraphic" in2="m" operator="in" result="c"/><feGaussianBlur in="c" stdDeviation="0.5"/></filter><filter id="s3" x="0" y="0" width="1" height="1" color-interpolation-filters="sRGB"><feTurbulence type="fractalNoise" baseFrequency="0.06 0.22" numOctaves="2" seed="402" result="t"/><feColorMatrix in="t" type="matrix" values="0 0 0 0 0  0 0 0 0 0  0 0 0 0 0  5.000 0 0 0 -2.650" result="m"/><feComposite in="SourceGraphic" in2="m" operator="in" result="c"/><feGaussianBlur in="c" stdDeviation="0.5"/></filter><clipPath id="c0"><rect x="568.25" y="2.00" width="57.58" height="57.90"/></clipPath><clipPath id="c1"><rect x="625.77" y="2.00" width="57.58" height="57.90"/></clipPath><clipPath id="c2"><rect x="568.25" y="90.50" width="57.58" height="57.90"/></clipPath><clipPath id="c3"><rect x="625.77" y="90.50" width="57.58" height="57.90"/></clipPath></defs>
<rect x="0" y="0" width="685" height="477" fill="#fff"/>
<rect x="50.50" y="2.00" width="57.58" height="57.90" fill="rgb(172,144,112)"/>
<g fill="rgb(112,88,66)" filter="url(#f0)"><rect x="50.50" y="6.40" width="57.58" height="2.20"/><rect x="50.50" y="13.30" width="57.58" height="2.20"/><rect x="50.50" y="20.20" width="57.58" height="2.20"/><rect x="50.50" y="27.10" width="57.58" height="2.20"/><rect x="50.50" y="34.00" width="57.58" height="2.20"/><rect x="50.50" y="40.90" width="57.58" height="2.20"/><rect x="50.50" y="47.80" width="57.58" height="2.20"/><rect x="50.50" y="54.70" width="57.58" height="2.20"/></g>
<g fill="rgb(196,172,138)" filter="url(#f1)"><rect x="50.50" y="2.90" width="57.58" height="2.60"/><rect x="50.50" y="9.80" width="57.58" height="2.60"/><rect x="50.50" y="16.70" width="57.58" height="2.60"/><rect x="50.50" y="23.60" width="57.58" height="2.60"/><rect x="50.50" y="30.50" width="57.58" height="2.60"/><rect x="50.50" y="37.40" width="57.58" height="2.60"/><rect x="50.50" y="44.30" width="57.58" height="2.60"/><rect x="50.50" y="51.20" width="57.58" height="2.60"/><rect x="50.50" y="58.10" width="57.58" height="1.80"/></g>
<rect x="50.50" y="2.00" width="57.58" height="57.90" fill="rgb(95,75,55)" filter="url(#f2)"/>
<rect x="50.50" y="2.00" width="57.58" height="57.90" fill="rgb(208,186,154)" filter="url(#f3)"/>
<rect x="108.03" y="2.00" width="57.58" height="57.90" fill="rgb(160,132,100)"/>
<g fill="rgb(70,92,50)" filter="url(#f4)"><rect x="108.03" y="10.60" width="57.58" height="2.20"/><rect x="108.03" y="18.90" width="57.58" height="2.20"/><rect x="108.03" y="27.20" width="57.58" height="2.20"/><rect x="108.03" y="35.50" width="57.58" height="2.20"/><rect x="108.03" y="43.80" width="57.58" height="2.20"/><rect x="108.03" y="52.10" width="57.58" height="2.20"/></g>
<rect x="108.03" y="2.00" width="57.58" height="57.90" fill="rgb(90,70,52)" filter="url(#f5)"/>
<rect x="108.03" y="2.00" width="57.58" height="57.90" fill="rgb(188,165,132)" filter="url(#f6)"/>
<rect x="165.55" y="2.00" width="57.58" height="57.90" fill="rgb(205,195,162)"/>
<g fill="rgb(88,135,78)" filter="url(#f7)"><rect x="165.55" y="7.60" width="57.58" height="4.60"/><rect x="165.55" y="16.00" width="57.58" height="4.60"/><rect x="165.55" y="24.40" width="57.58" height="4.60"/><rect x="165.55" y="32.80" width="57.58" height="4.60"/><rect x="165.55" y="41.20" width="57.58" height="4.60"/><rect x="165.55" y="49.60" width="57.58" height="4.60"/></g>
<rect x="165.55" y="2.00" width="57.58" height="57.90" fill="rgb(55,55,38)" filter="url(#f8)"/>
<rect x="165.55" y="2.00" width="57.58" height="57.90" fill="rgb(228,218,190)" filter="url(#f9)"/>
<rect x="223.08" y="2.00" width="57.58" height="57.90" fill="rgb(165,140,100)"/>
<g fill="rgb(75,98,50)" filter="url(#f10)"><rect x="223.08" y="2.25" width="57.58" height="6.50"/><rect x="223.08" y="10.25" width="57.58" height="6.50"/><rect x="223.08" y="18.25" width="57.58" height="6.50"/><rect x="223.08" y="26.25" width="57.58" height="6.50"/><rect x="223.08" y="34.25" width="57.58" height="6.50"/><rect x="223.08" y="42.25" width="57.58" height="6.50"/><rect x="223.08" y="50.25" width="57.58" height="6.50"/></g>
<rect x="223.08" y="2.00" width="57.58" height="57.90" fill="rgb(45,40,26)" filter="url(#f11)"/>
<rect x="223.08" y="2.00" width="57.58" height="57.90" fill="rgb(185,160,118)" filter="url(#f12)"/>
<rect x="223.08" y="2.00" width="57.58" height="3.00" fill="rgb(185,160,120)" opacity="0.70"/>
<rect x="280.61" y="2.00" width="57.58" height="57.90" fill="rgb(202,192,162)"/>
<g fill="rgb(84,114,86)" filter="url(#f13)"><rect x="280.61" y="2.25" width="57.58" height="5.50"/><rect x="280.61" y="10.05" width="57.58" height="5.50"/><rect x="280.61" y="17.85" width="57.58" height="5.50"/><rect x="280.61" y="25.65" width="57.58" height="5.50"/><rect x="280.61" y="33.45" width="57.58" height="5.50"/><rect x="280.61" y="41.25" width="57.58" height="5.50"/><rect x="280.61" y="49.05" width="57.58" height="5.50"/></g>
<rect x="280.61" y="2.00" width="57.58" height="57.90" fill="rgb(42,55,42)" filter="url(#f14)"/>
<rect x="280.61" y="2.00" width="57.58" height="57.90" fill="rgb(225,218,195)" filter="url(#f15)"/>
<rect x="280.61" y="2.00" width="57.58" height="3.00" fill="rgb(210,200,172)" opacity="0.60"/>
<rect x="338.14" y="2.00" width="57.58" height="57.90" fill="rgb(100,76,48)"/>
<g fill="rgb(135,172,128)" filter="url(#f16)"><rect x="338.14" y="4.75" width="57.58" height="5.50"/><rect x="338.14" y="12.75" width="57.58" height="5.50"/><rect x="338.14" y="20.75" width="57.58" height="5.50"/><rect x="338.14" y="28.75" width="57.58" height="5.50"/><rect x="338.14" y="36.75" width="57.58" height="5.50"/><rect x="338.14" y="44.75" width="57.58" height="5.50"/><rect x="338.14" y="52.75" width="57.58" height="5.50"/></g>
<rect x="338.14" y="2.00" width="57.58" height="57.90" fill="rgb(70,55,35)" filter="url(#f17)"/>
<rect x="338.14" y="2.00" width="57.58" height="57.90" fill="rgb(165,200,160)" filter="url(#f18)"/>
<rect x="338.14" y="2.00" width="57.58" height="4.00" fill="rgb(105,80,50)" opacity="0.80"/>
<rect x="395.66" y="2.00" width="57.58" height="57.90" fill="rgb(100,80,50)"/>
<g fill="rgb(100,122,82)" filter="url(#f19)"><rect x="395.66" y="3.25" width="57.58" height="5.50"/><rect x="395.66" y="11.15" width="57.58" height="5.50"/><rect x="395.66" y="19.05" width="57.58" height="5.50"/><rect x="395.66" y="26.95" width="57.58" height="5.50"/><rect x="395.66" y="34.85" width="57.58" height="5.50"/><rect x="395.66" y="42.75" width="57.58" height="5.50"/><rect x="395.66" y="50.65" width="57.58" height="5.50"/></g>
<rect x="395.66" y="2.00" width="57.58" height="57.90" fill="rgb(52,46,28)" filter="url(#f20)"/>
<rect x="395.66" y="2.00" width="57.58" height="57.90" fill="rgb(165,150,105)" filter="url(#f21)"/>
<rect x="395.66" y="55.00" width="57.58" height="4.90" fill="rgb(170,150,105)" opacity="0.80"/>
<rect x="453.19" y="2.00" width="57.58" height="57.90" fill="rgb(55,45,30)"/>
<g fill="rgb(130,166,112)" filter="url(#f22)"><rect x="453.19" y="8.10" width="57.58" height="7.20"/><rect x="453.19" y="16.30" width="57.58" height="7.20"/><rect x="453.19" y="24.50" width="57.58" height="7.20"/><rect x="453.19" y="32.70" width="57.58" height="7.20"/><rect x="453.19" y="40.90" width="57.58" height="7.20"/><rect x="453.19" y="49.10" width="57.58" height="7.20"/></g>
<rect x="453.19" y="2.00" width="57.58" height="57.90" fill="rgb(62,88,50)" filter="url(#f23)"/>
<rect x="453.19" y="2.00" width="57.58" height="57.90" fill="rgb(188,210,172)" filter="url(#f24)"/>
<rect x="453.19" y="2.00" width="57.58" height="3.00" fill="rgb(62,48,30)" opacity="0.80"/>
<rect x="510.72" y="2.00" width="57.58" height="57.90" fill="rgb(150,130,95)"/>
<g fill="rgb(142,178,118)" filter="url(#f25)"><rect x="510.72" y="3.25" width="57.58" height="5.50"/><rect x="510.72" y="11.25" width="57.58" height="5.50"/><rect x="510.72" y="19.25" width="57.58" height="5.50"/><rect x="510.72" y="27.25" width="57.58" height="5.50"/><rect x="510.72" y="35.25" width="57.58" height="5.50"/><rect x="510.72" y="43.25" width="57.58" height="5.50"/><rect x="510.72" y="51.25" width="57.58" height="5.50"/></g>
<rect x="510.72" y="2.00" width="57.58" height="57.90" fill="rgb(50,42,28)" filter="url(#f26)"/>
<rect x="510.72" y="2.00" width="57.58" height="57.90" fill="rgb(185,200,150)" filter="url(#f27)"/>
<rect x="510.72" y="2.00" width="57.58" height="3.00" fill="rgb(70,55,38)" opacity="0.70"/>
<rect x="568.25" y="2.00" width="57.58" height="57.90" fill="rgb(128,102,70)"/>
<g fill="rgb(92,104,62)" filter="url(#f28)"><rect x="568.25" y="4.50" width="57.58" height="3.00"/><rect x="568.25" y="12.50" width="57.58" height="3.00"/><rect x="568.25" y="20.50" width="57.58" height="3.00"/><rect x="568.25" y="28.50" width="57.58" height="3.00"/><rect x="568.25" y="36.50" width="57.58" height="3.00"/><rect x="568.25" y="44.50" width="57.58" height="3.00"/><rect x="568.25" y="52.50" width="57.58" height="3.00"/></g>
<g clip-path="url(#c0)"><rect x="552.03" y="-14.05" width="90.00" height="90.00" fill="rgb(80,62,42)" filter="url(#s0)" transform="rotate(-35.0 597.03 30.95)"/></g>
<rect x="568.25" y="2.00" width="57.58" height="57.90" fill="rgb(68,52,34)" filter="url(#f29)"/>
<rect x="568.25" y="2.00" width="57.58" height="57.90" fill="rgb(180,155,115)" filter="url(#f30)"/>
<rect x="625.77" y="2.00" width="57.58" height="57.90" fill="rgb(200,180,142)"/>
<g fill="rgb(120,135,90)" filter="url(#f31)"><rect x="625.77" y="4.50" width="57.58" height="3.00"/><rect x="625.77" y="12.50" width="57.58" height="3.00"/><rect x="625.77" y="20.50" width="57.58" height="3.00"/><rect x="625.77" y="28.50" width="57.58" height="3.00"/><rect x="625.77" y="36.50" width="57.58" height="3.00"/><rect x="625.77" y="44.50" width="57.58" height="3.00"/><rect x="625.77" y="52.50" width="57.58" height="3.00"/></g>
<g clip-path="url(#c1)"><rect x="609.56" y="-14.05" width="90.00" height="90.00" fill="rgb(100,78,52)" filter="url(#s1)" transform="rotate(-60.0 654.56 30.95)"/></g>
<rect x="625.77" y="2.00" width="57.58" height="57.90" fill="rgb(96,74,50)" filter="url(#f32)"/>
<rect x="625.77" y="2.00" width="57.58" height="57.90" fill="rgb(225,210,175)" filter="url(#f33)"/>
<line x1="108.03" x2="108.03" y1="2.00" y2="59.90" stroke="#000" stroke-opacity="0.28" stroke-width="1"/>
<line x1="165.55" x2="165.55" y1="2.00" y2="59.90" stroke="#000" stroke-opacity="0.28" stroke-width="1"/>
<line x1="223.08" x2="223.08" y1="2.00" y2="59.90" stroke="#000" stroke-opacity="0.28" stroke-width="1"/>
<line x1="280.61" x2="280.61" y1="2.00" y2="59.90" stroke="#000" stroke-opacity="0.28" stroke-width="1"/>
<line x1="338.14" x2="338.14" y1="2.00" y2="59.90" stroke="#000" stroke-opacity="0.28" stroke-width="1"/>
<line x1="395.66" x2="395.66" y1="2.00" y2="59.90" stroke="#000" stroke-opacity="0.28" stroke-width="1"/>
<line x1="453.19" x2="453.19" y1="2.00" y2="59.90" stroke="#000" stroke-opacity="0.28" stroke-width="1"/>
<line x1="510.72" x2="510.72" y1="2.00" y2="59.90" stroke="#000" stroke-opacity="0.28" stroke-width="1"/>
<line x1="568.25" x2="568.25" y1="2.00" y2="59.90" stroke="#000" stroke-opacity="0.28" stroke-width="1"/>
<line x1="625.77" x2="625.77" y1="2.00" y2="59.90" stroke="#000" stroke-opacity="0.28" stroke-width="1"/>
<rect x="167.0" y="3.7" width="54.8" height="54.4" fill="none" stroke="#00ffff" stroke-width="2.4"/>
<rect x="50.50" y="2.00" width="632.80" height="57.90" fill="none" stroke="#2a2a2a" stroke-width="1.30"/>
<line x1="44.6" x2="50.50" y1="2.40" y2="2.40" stroke="#2a2a2a" stroke-width="1.30"/>
<line x1="44.6" x2="50.50" y1="57.70" y2="57.70" stroke="#2a2a2a" stroke-width="1.30"/>
<line x1="50.50" x2="50.50" y1="59.90" y2="65.90" stroke="#2a2a2a" stroke-width="1.30"/>
<line x1="161.50" x2="161.50" y1="59.90" y2="65.90" stroke="#2a2a2a" stroke-width="1.30"/>
<line x1="273.40" x2="273.40" y1="59.90" y2="65.90" stroke="#2a2a2a" stroke-width="1.30"/>
<line x1="384.50" x2="384.50" y1="59.90" y2="65.90" stroke="#2a2a2a" stroke-width="1.30"/>
<line x1="496.00" x2="496.00" y1="59.90" y2="65.90" stroke="#2a2a2a" stroke-width="1.30"/>
<line x1="607.40" x2="607.40" y1="59.90" y2="65.90" stroke="#2a2a2a" stroke-width="1.30"/>
<rect x="50.50" y="90.50" width="57.58" height="57.90" fill="rgb(182,156,122)"/>
<g fill="rgb(125,102,76)" filter="url(#f34)"><rect x="50.50" y="95.00" width="57.58" height="2.00"/><rect x="50.50" y="101.90" width="57.58" height="2.00"/><rect x="50.50" y="108.80" width="57.58" height="2.00"/><rect x="50.50" y="115.70" width="57.58" height="2.00"/><rect x="50.50" y="122.60" width="57.58" height="2.00"/><rect x="50.50" y="129.50" width="57.58" height="2.00"/><rect x="50.50" y="136.40" width="57.58" height="2.00"/><rect x="50.50" y="143.30" width="57.58" height="2.00"/></g>
<g fill="rgb(200,178,145)" filter="url(#f35)"><rect x="50.50" y="91.40" width="57.58" height="2.60"/><rect x="50.50" y="98.30" width="57.58" height="2.60"/><rect x="50.50" y="105.20" width="57.58" height="2.60"/><rect x="50.50" y="112.10" width="57.58" height="2.60"/><rect x="50.50" y="119.00" width="57.58" height="2.60"/><rect x="50.50" y="125.90" width="57.58" height="2.60"/><rect x="50.50" y="132.80" width="57.58" height="2.60"/><rect x="50.50" y="139.70" width="57.58" height="2.60"/><rect x="50.50" y="146.60" width="57.58" height="1.80"/></g>
<rect x="50.50" y="90.50" width="57.58" height="57.90" fill="rgb(105,85,64)" filter="url(#f36)"/>
<rect x="50.50" y="90.50" width="57.58" height="57.90" fill="rgb(210,190,160)" filter="url(#f37)"/>
<rect x="108.03" y="90.50" width="57.58" height="57.90" fill="rgb(158,130,96)"/>
<g fill="rgb(72,95,50)" filter="url(#f38)"><rect x="108.03" y="98.40" width="57.58" height="2.20"/><rect x="108.03" y="106.70" width="57.58" height="2.20"/><rect x="108.03" y="115.00" width="57.58" height="2.20"/><rect x="108.03" y="123.30" width="57.58" height="2.20"/><rect x="108.03" y="131.60" width="57.58" height="2.20"/><rect x="108.03" y="139.90" width="57.58" height="2.20"/></g>
<rect x="108.03" y="90.50" width="57.58" height="57.90" fill="rgb(90,72,54)" filter="url(#f39)"/>
<rect x="108.03" y="90.50" width="57.58" height="57.90" fill="rgb(185,162,130)" filter="url(#f40)"/>
<rect x="165.55" y="90.50" width="57.58" height="57.90" fill="rgb(212,202,166)"/>
<g fill="rgb(88,140,80)" filter="url(#f41)"><rect x="165.55" y="95.80" width="57.58" height="4.40"/><rect x="165.55" y="104.20" width="57.58" height="4.40"/><rect x="165.55" y="112.60" width="57.58" height="4.40"/><rect x="165.55" y="121.00" width="57.58" height="4.40"/><rect x="165.55" y="129.40" width="57.58" height="4.40"/><rect x="165.55" y="137.80" width="57.58" height="4.40"/></g>
<rect x="165.55" y="90.50" width="57.58" height="57.90" fill="rgb(50,55,38)" filter="url(#f42)"/>
<rect x="165.55" y="90.50" width="57.58" height="57.90" fill="rgb(232,225,198)" filter="url(#f43)"/>
<rect x="223.08" y="90.50" width="57.58" height="57.90" fill="rgb(175,150,108)"/>
<g fill="rgb(76,98,48)" filter="url(#f44)"><rect x="223.08" y="91.25" width="57.58" height="5.50"/><rect x="223.08" y="99.25" width="57.58" height="5.50"/><rect x="223.08" y="107.25" width="57.58" height="5.50"/><rect x="223.08" y="115.25" width="57.58" height="5.50"/><rect x="223.08" y="123.25" width="57.58" height="5.50"/><rect x="223.08" y="131.25" width="57.58" height="5.50"/><rect x="223.08" y="139.25" width="57.58" height="5.50"/></g>
<rect x="223.08" y="90.50" width="57.58" height="57.90" fill="rgb(42,38,25)" filter="url(#f45)"/>
<rect x="223.08" y="90.50" width="57.58" height="57.90" fill="rgb(190,165,122)" filter="url(#f46)"/>
<rect x="280.61" y="90.50" width="57.58" height="57.90" fill="rgb(208,198,168)"/>
<g fill="rgb(84,118,90)" filter="url(#f47)"><rect x="280.61" y="90.90" width="57.58" height="5.20"/><rect x="280.61" y="98.70" width="57.58" height="5.20"/><rect x="280.61" y="106.50" width="57.58" height="5.20"/><rect x="280.61" y="114.30" width="57.58" height="5.20"/><rect x="280.61" y="122.10" width="57.58" height="5.20"/><rect x="280.61" y="129.90" width="57.58" height="5.20"/><rect x="280.61" y="137.70" width="57.58" height="5.20"/></g>
<rect x="280.61" y="90.50" width="57.58" height="57.90" fill="rgb(42,55,42)" filter="url(#f48)"/>
<rect x="280.61" y="90.50" width="57.58" height="57.90" fill="rgb(228,220,198)" filter="url(#f49)"/>
<rect x="280.61" y="90.50" width="57.58" height="3.50" fill="rgb(200,185,150)" opacity="0.60"/>
<rect x="338.14" y="90.50" width="57.58" height="57.90" fill="rgb(95,74,48)"/>
<g fill="rgb(98,152,90)" filter="url(#f50)"><rect x="338.14" y="93.00" width="57.58" height="6.00"/><rect x="338.14" y="101.00" width="57.58" height="6.00"/><rect x="338.14" y="109.00" width="57.58" height="6.00"/><rect x="338.14" y="117.00" width="57.58" height="6.00"/><rect x="338.14" y="125.00" width="57.58" height="6.00"/><rect x="338.14" y="133.00" width="57.58" height="6.00"/><rect x="338.14" y="141.00" width="57.58" height="6.00"/></g>
<rect x="338.14" y="90.50" width="57.58" height="57.90" fill="rgb(60,48,32)" filter="url(#f51)"/>
<rect x="338.14" y="90.50" width="57.58" height="57.90" fill="rgb(160,200,150)" filter="url(#f52)"/>
<rect x="338.14" y="90.50" width="57.58" height="3.50" fill="rgb(130,102,70)" opacity="0.85"/>
<rect x="395.66" y="90.50" width="57.58" height="57.90" fill="rgb(95,80,48)"/>
<g fill="rgb(92,118,68)" filter="url(#f53)"><rect x="395.66" y="91.50" width="57.58" height="6.00"/><rect x="395.66" y="99.40" width="57.58" height="6.00"/><rect x="395.66" y="107.30" width="57.58" height="6.00"/><rect x="395.66" y="115.20" width="57.58" height="6.00"/><rect x="395.66" y="123.10" width="57.58" height="6.00"/><rect x="395.66" y="131.00" width="57.58" height="6.00"/><rect x="395.66" y="138.90" width="57.58" height="6.00"/></g>
<rect x="395.66" y="90.50" width="57.58" height="57.90" fill="rgb(45,40,24)" filter="url(#f54)"/>
<rect x="395.66" y="90.50" width="57.58" height="57.90" fill="rgb(150,160,100)" filter="url(#f55)"/>
<rect x="395.66" y="144.00" width="57.58" height="4.40" fill="rgb(150,130,90)" opacity="0.60"/>
<rect x="453.19" y="90.50" width="57.58" height="57.90" fill="rgb(40,35,22)"/>
<g fill="rgb(80,122,72)" filter="url(#f56)"><rect x="453.19" y="91.25" width="57.58" height="6.50"/><rect x="453.19" y="99.25" width="57.58" height="6.50"/><rect x="453.19" y="107.25" width="57.58" height="6.50"/><rect x="453.19" y="115.25" width="57.58" height="6.50"/><rect x="453.19" y="123.25" width="57.58" height="6.50"/><rect x="453.19" y="131.25" width="57.58" height="6.50"/><rect x="453.19" y="139.25" width="57.58" height="6.50"/></g>
<rect x="453.19" y="90.50" width="57.58" height="57.90" fill="rgb(30,28,18)" filter="url(#f57)"/>
<rect x="453.19" y="90.50" width="57.58" height="57.90" fill="rgb(140,190,120)" filter="url(#f58)"/>
<rect x="510.72" y="90.50" width="57.58" height="57.90" fill="rgb(125,110,80)"/>
<g fill="rgb(135,178,105)" filter="url(#f59)"><rect x="510.72" y="91.50" width="57.58" height="6.00"/><rect x="510.72" y="99.50" width="57.58" height="6.00"/><rect x="510.72" y="107.50" width="57.58" height="6.00"/><rect x="510.72" y="115.50" width="57.58" height="6.00"/><rect x="510.72" y="123.50" width="57.58" height="6.00"/><rect x="510.72" y="131.50" width="57.58" height="6.00"/><rect x="510.72" y="139.50" width="57.58" height="6.00"/></g>
<rect x="510.72" y="90.50" width="57.58" height="57.90" fill="rgb(45,38,26)" filter="url(#f60)"/>
<rect x="510.72" y="90.50" width="57.58" height="57.90" fill="rgb(180,200,150)" filter="url(#f61)"/>
<rect x="510.72" y="90.50" width="57.58" height="57.90" fill="rgb(85,170,60)" filter="url(#f62)"/>
<rect x="510.72" y="90.50" width="57.58" height="3.00" fill="rgb(70,58,40)" opacity="0.70"/>
<rect x="568.25" y="90.50" width="57.58" height="57.90" fill="rgb(158,132,95)"/>
<g fill="rgb(96,130,66)" filter="url(#f63)"><rect x="568.25" y="93.00" width="57.58" height="3.00"/><rect x="568.25" y="101.00" width="57.58" height="3.00"/><rect x="568.25" y="109.00" width="57.58" height="3.00"/><rect x="568.25" y="117.00" width="57.58" height="3.00"/><rect x="568.25" y="125.00" width="57.58" height="3.00"/><rect x="568.25" y="133.00" width="57.58" height="3.00"/><rect x="568.25" y="141.00" width="57.58" height="3.00"/></g>
<g clip-path="url(#c2)"><rect x="552.03" y="74.45" width="90.00" height="90.00" fill="rgb(82,64,44)" filter="url(#s2)" transform="rotate(-60.0 597.03 119.45)"/></g>
<rect x="568.25" y="90.50" width="57.58" height="57.90" fill="rgb(85,66,45)" filter="url(#f64)"/>
<rect x="568.25" y="90.50" width="57.58" height="57.90" fill="rgb(195,172,132)" filter="url(#f65)"/>
<rect x="568.25" y="90.50" width="57.58" height="57.90" fill="rgb(90,130,60)" filter="url(#f66)"/>
<rect x="625.77" y="90.50" width="57.58" height="57.90" fill="rgb(208,194,160)"/>
<g fill="rgb(120,155,90)" filter="url(#f67)"><rect x="625.77" y="93.00" width="57.58" height="3.00"/><rect x="625.77" y="101.00" width="57.58" height="3.00"/><rect x="625.77" y="109.00" width="57.58" height="3.00"/><rect x="625.77" y="117.00" width="57.58" height="3.00"/><rect x="625.77" y="125.00" width="57.58" height="3.00"/><rect x="625.77" y="133.00" width="57.58" height="3.00"/><rect x="625.77" y="141.00" width="57.58" height="3.00"/></g>
<g clip-path="url(#c3)"><rect x="609.56" y="74.45" width="90.00" height="90.00" fill="rgb(120,98,68)" filter="url(#s3)" transform="rotate(-60.0 654.56 119.45)"/></g>
<rect x="625.77" y="90.50" width="57.58" height="57.90" fill="rgb(120,100,70)" filter="url(#f68)"/>
<rect x="625.77" y="90.50" width="57.58" height="57.90" fill="rgb(230,218,188)" filter="url(#f69)"/>
<line x1="108.03" x2="108.03" y1="90.50" y2="148.40" stroke="#000" stroke-opacity="0.28" stroke-width="1"/>
<line x1="165.55" x2="165.55" y1="90.50" y2="148.40" stroke="#000" stroke-opacity="0.28" stroke-width="1"/>
<line x1="223.08" x2="223.08" y1="90.50" y2="148.40" stroke="#000" stroke-opacity="0.28" stroke-width="1"/>
<line x1="280.61" x2="280.61" y1="90.50" y2="148.40" stroke="#000" stroke-opacity="0.28" stroke-width="1"/>
<line x1="338.14" x2="338.14" y1="90.50" y2="148.40" stroke="#000" stroke-opacity="0.28" stroke-width="1"/>
<line x1="395.66" x2="395.66" y1="90.50" y2="148.40" stroke="#000" stroke-opacity="0.28" stroke-width="1"/>
<line x1="453.19" x2="453.19" y1="90.50" y2="148.40" stroke="#000" stroke-opacity="0.28" stroke-width="1"/>
<line x1="510.72" x2="510.72" y1="90.50" y2="148.40" stroke="#000" stroke-opacity="0.28" stroke-width="1"/>
<line x1="568.25" x2="568.25" y1="90.50" y2="148.40" stroke="#000" stroke-opacity="0.28" stroke-width="1"/>
<line x1="625.77" x2="625.77" y1="90.50" y2="148.40" stroke="#000" stroke-opacity="0.28" stroke-width="1"/>
<rect x="50.50" y="90.50" width="632.80" height="57.90" fill="none" stroke="#2a2a2a" stroke-width="1.30"/>
<line x1="44.6" x2="50.50" y1="90.90" y2="90.90" stroke="#2a2a2a" stroke-width="1.30"/>
<line x1="44.6" x2="50.50" y1="146.20" y2="146.20" stroke="#2a2a2a" stroke-width="1.30"/>
<line x1="50.50" x2="50.50" y1="148.40" y2="154.40" stroke="#2a2a2a" stroke-width="1.30"/>
<line x1="161.50" x2="161.50" y1="148.40" y2="154.40" stroke="#2a2a2a" stroke-width="1.30"/>
<line x1="273.40" x2="273.40" y1="148.40" y2="154.40" stroke="#2a2a2a" stroke-width="1.30"/>
<line x1="384.50" x2="384.50" y1="148.40" y2="154.40" stroke="#2a2a2a" stroke-width="1.30"/>
<line x1="496.00" x2="496.00" y1="148.40" y2="154.40" stroke="#2a2a2a" stroke-width="1.30"/>
<line x1="607.40" x2="607.40" y1="148.40" y2="154.40" stroke="#2a2a2a" stroke-width="1.30"/>
<rect x="50.50" y="179.40" width="57.58" height="14.55" fill="rgb(234,243,251)"/>
<rect x="50.50" y="179.40" width="57.58" height="14.55" fill="rgb(150,195,228)" filter="url(#f70)"/>
<rect x="50.50" y="179.40" width="57.58" height="14.55" fill="rgb(35,110,178)" filter="url(#f71)"/>
<rect x="50.50" y="193.90" width="57.58" height="14.55" fill="rgb(234,243,251)"/>
<rect x="50.50" y="193.90" width="57.58" height="14.55" fill="rgb(150,195,228)" filter="url(#f72)"/>
<rect x="50.50" y="193.90" width="57.58" height="14.55" fill="rgb(35,110,178)" filter="url(#f71)"/>
<rect x="50.50" y="208.40" width="57.58" height="14.55" fill="rgb(235,243,251)"/>
<rect x="50.50" y="208.40" width="57.58" height="14.55" fill="rgb(150,195,228)" filter="url(#f72)"/>
<rect x="50.50" y="208.40" width="57.58" height="14.55" fill="rgb(35,110,178)" filter="url(#f73)"/>
<rect x="50.50" y="222.90" width="57.58" height="14.50" fill="rgb(235,243,251)"/>
<rect x="50.50" y="222.90" width="57.58" height="14.50" fill="rgb(150,195,228)" filter="url(#f74)"/>
<rect x="50.50" y="222.90" width="57.58" height="14.50" fill="rgb(35,110,178)" filter="url(#f73)"/>
<rect x="108.03" y="179.40" width="57.58" height="14.55" fill="rgb(235,243,251)"/>
<rect x="108.03" y="179.40" width="57.58" height="14.55" fill="rgb(150,195,228)" filter="url(#f75)"/>
<rect x="108.03" y="179.40" width="57.58" height="14.55" fill="rgb(35,110,178)" filter="url(#f76)"/>
<rect x="108.03" y="193.90" width="57.58" height="14.55" fill="rgb(235,243,251)"/>
<rect x="108.03" y="193.90" width="57.58" height="14.55" fill="rgb(150,195,228)" filter="url(#f75)"/>
<rect x="108.03" y="193.90" width="57.58" height="14.55" fill="rgb(35,110,178)" filter="url(#f76)"/>
<rect x="108.03" y="208.40" width="57.58" height="14.55" fill="rgb(235,243,251)"/>
<rect x="108.03" y="208.40" width="57.58" height="14.55" fill="rgb(150,195,228)" filter="url(#f75)"/>
<rect x="108.03" y="208.40" width="57.58" height="14.55" fill="rgb(35,110,178)" filter="url(#f76)"/>
<rect x="108.03" y="222.90" width="57.58" height="14.50" fill="rgb(235,243,251)"/>
<rect x="108.03" y="222.90" width="57.58" height="14.50" fill="rgb(150,195,228)" filter="url(#f75)"/>
<rect x="108.03" y="222.90" width="57.58" height="14.50" fill="rgb(35,110,178)" filter="url(#f76)"/>
<rect x="165.55" y="179.40" width="57.58" height="58.00" fill="rgb(236,243,252)"/>
<rect x="223.08" y="179.40" width="57.58" height="14.55" fill="rgb(234,243,251)"/>
<rect x="223.08" y="179.40" width="57.58" height="14.55" fill="rgb(150,195,228)" filter="url(#f77)"/>
<rect x="223.08" y="179.40" width="57.58" height="14.55" fill="rgb(35,110,178)" filter="url(#f78)"/>
<rect x="223.08" y="193.90" width="57.58" height="14.55" fill="rgb(234,243,251)"/>
<rect x="223.08" y="193.90" width="57.58" height="14.55" fill="rgb(150,195,228)" filter="url(#f77)"/>
<rect x="223.08" y="193.90" width="57.58" height="14.55" fill="rgb(35,110,178)" filter="url(#f79)"/>
<rect x="223.08" y="208.40" width="57.58" height="14.55" fill="rgb(234,243,251)"/>
<rect x="223.08" y="208.40" width="57.58" height="14.55" fill="rgb(150,195,228)" filter="url(#f80)"/>
<rect x="223.08" y="208.40" width="57.58" height="14.55" fill="rgb(35,110,178)" filter="url(#f79)"/>
<rect x="223.08" y="222.90" width="57.58" height="14.50" fill="rgb(234,243,251)"/>
<rect x="223.08" y="222.90" width="57.58" height="14.50" fill="rgb(150,195,228)" filter="url(#f80)"/>
<rect x="223.08" y="222.90" width="57.58" height="14.50" fill="rgb(35,110,178)" filter="url(#f79)"/>
<rect x="280.61" y="179.40" width="57.58" height="14.55" fill="rgb(231,240,250)"/>
<rect x="280.61" y="179.40" width="57.58" height="14.55" fill="rgb(150,195,228)" filter="url(#f81)"/>
<rect x="280.61" y="179.40" width="57.58" height="14.55" fill="rgb(35,110,178)" filter="url(#f82)"/>
<rect x="280.61" y="193.90" width="57.58" height="14.55" fill="rgb(231,241,250)"/>
<rect x="280.61" y="193.90" width="57.58" height="14.55" fill="rgb(150,195,228)" filter="url(#f83)"/>
<rect x="280.61" y="193.90" width="57.58" height="14.55" fill="rgb(35,110,178)" filter="url(#f84)"/>
<rect x="280.61" y="208.40" width="57.58" height="14.55" fill="rgb(232,241,250)"/>
<rect x="280.61" y="208.40" width="57.58" height="14.55" fill="rgb(150,195,228)" filter="url(#f85)"/>
<rect x="280.61" y="208.40" width="57.58" height="14.55" fill="rgb(35,110,178)" filter="url(#f86)"/>
<rect x="280.61" y="222.90" width="57.58" height="14.50" fill="rgb(233,242,250)"/>
<rect x="280.61" y="222.90" width="57.58" height="14.50" fill="rgb(150,195,228)" filter="url(#f87)"/>
<rect x="280.61" y="222.90" width="57.58" height="14.50" fill="rgb(35,110,178)" filter="url(#f88)"/>
<rect x="338.14" y="179.40" width="57.58" height="14.55" fill="rgb(234,243,251)"/>
<rect x="338.14" y="179.40" width="57.58" height="14.55" fill="rgb(150,195,228)" filter="url(#f89)"/>
<rect x="338.14" y="179.40" width="57.58" height="14.55" fill="rgb(35,110,178)" filter="url(#f90)"/>
<rect x="338.14" y="193.90" width="57.58" height="14.55" fill="rgb(234,243,251)"/>
<rect x="338.14" y="193.90" width="57.58" height="14.55" fill="rgb(150,195,228)" filter="url(#f89)"/>
<rect x="338.14" y="193.90" width="57.58" height="14.55" fill="rgb(35,110,178)" filter="url(#f90)"/>
<rect x="338.14" y="208.40" width="57.58" height="14.55" fill="rgb(234,243,251)"/>
<rect x="338.14" y="208.40" width="57.58" height="14.55" fill="rgb(150,195,228)" filter="url(#f89)"/>
<rect x="338.14" y="208.40" width="57.58" height="14.55" fill="rgb(35,110,178)" filter="url(#f90)"/>
<rect x="338.14" y="222.90" width="57.58" height="14.50" fill="rgb(234,243,251)"/>
<rect x="338.14" y="222.90" width="57.58" height="14.50" fill="rgb(150,195,228)" filter="url(#f89)"/>
<rect x="338.14" y="222.90" width="57.58" height="14.50" fill="rgb(35,110,178)" filter="url(#f90)"/>
<rect x="395.66" y="179.40" width="57.58" height="14.55" fill="rgb(231,241,250)"/>
<rect x="395.66" y="179.40" width="57.58" height="14.55" fill="rgb(150,195,228)" filter="url(#f91)"/>
<rect x="395.66" y="179.40" width="57.58" height="14.55" fill="rgb(35,110,178)" filter="url(#f92)"/>
<rect x="395.66" y="193.90" width="57.58" height="14.55" fill="rgb(232,241,250)"/>
<rect x="395.66" y="193.90" width="57.58" height="14.55" fill="rgb(150,195,228)" filter="url(#f93)"/>
<rect x="395.66" y="193.90" width="57.58" height="14.55" fill="rgb(35,110,178)" filter="url(#f94)"/>
<rect x="395.66" y="208.40" width="57.58" height="14.55" fill="rgb(232,241,250)"/>
<rect x="395.66" y="208.40" width="57.58" height="14.55" fill="rgb(150,195,228)" filter="url(#f95)"/>
<rect x="395.66" y="208.40" width="57.58" height="14.55" fill="rgb(35,110,178)" filter="url(#f96)"/>
<rect x="395.66" y="222.90" width="57.58" height="14.50" fill="rgb(233,242,250)"/>
<rect x="395.66" y="222.90" width="57.58" height="14.50" fill="rgb(150,195,228)" filter="url(#f97)"/>
<rect x="395.66" y="222.90" width="57.58" height="14.50" fill="rgb(35,110,178)" filter="url(#f98)"/>
<rect x="453.19" y="179.40" width="57.58" height="14.55" fill="rgb(233,242,250)"/>
<rect x="453.19" y="179.40" width="57.58" height="14.55" fill="rgb(150,195,228)" filter="url(#f99)"/>
<rect x="453.19" y="179.40" width="57.58" height="14.55" fill="rgb(35,110,178)" filter="url(#f100)"/>
<rect x="453.19" y="193.90" width="57.58" height="14.55" fill="rgb(233,242,250)"/>
<rect x="453.19" y="193.90" width="57.58" height="14.55" fill="rgb(150,195,228)" filter="url(#f99)"/>
<rect x="453.19" y="193.90" width="57.58" height="14.55" fill="rgb(35,110,178)" filter="url(#f100)"/>
<rect x="453.19" y="208.40" width="57.58" height="14.55" fill="rgb(233,242,250)"/>
<rect x="453.19" y="208.40" width="57.58" height="14.55" fill="rgb(150,195,228)" filter="url(#f99)"/>
<rect x="453.19" y="208.40" width="57.58" height="14.55" fill="rgb(35,110,178)" filter="url(#f100)"/>
<rect x="453.19" y="222.90" width="57.58" height="14.50" fill="rgb(233,242,250)"/>
<rect x="453.19" y="222.90" width="57.58" height="14.50" fill="rgb(150,195,228)" filter="url(#f99)"/>
<rect x="453.19" y="222.90" width="57.58" height="14.50" fill="rgb(35,110,178)" filter="url(#f100)"/>
<rect x="510.72" y="179.40" width="57.58" height="14.55" fill="rgb(231,241,250)"/>
<rect x="510.72" y="179.40" width="57.58" height="14.55" fill="rgb(150,195,228)" filter="url(#f101)"/>
<rect x="510.72" y="179.40" width="57.58" height="14.55" fill="rgb(35,110,178)" filter="url(#f102)"/>
<rect x="510.72" y="193.90" width="57.58" height="14.55" fill="rgb(231,241,250)"/>
<rect x="510.72" y="193.90" width="57.58" height="14.55" fill="rgb(150,195,228)" filter="url(#f103)"/>
<rect x="510.72" y="193.90" width="57.58" height="14.55" fill="rgb(35,110,178)" filter="url(#f102)"/>
<rect x="510.72" y="208.40" width="57.58" height="14.55" fill="rgb(231,241,250)"/>
<rect x="510.72" y="208.40" width="57.58" height="14.55" fill="rgb(150,195,228)" filter="url(#f103)"/>
<rect x="510.72" y="208.40" width="57.58" height="14.55" fill="rgb(35,110,178)" filter="url(#f104)"/>
<rect x="510.72" y="222.90" width="57.58" height="14.50" fill="rgb(231,241,250)"/>
<rect x="510.72" y="222.90" width="57.58" height="14.50" fill="rgb(150,195,228)" filter="url(#f105)"/>
<rect x="510.72" y="222.90" width="57.58" height="14.50" fill="rgb(35,110,178)" filter="url(#f106)"/>
<rect x="568.25" y="179.40" width="57.58" height="14.55" fill="rgb(234,243,251)"/>
<rect x="568.25" y="179.40" width="57.58" height="14.55" fill="rgb(150,195,228)" filter="url(#f107)"/>
<rect x="568.25" y="179.40" width="57.58" height="14.55" fill="rgb(35,110,178)" filter="url(#f108)"/>
<rect x="568.25" y="193.90" width="57.58" height="14.55" fill="rgb(234,243,251)"/>
<rect x="568.25" y="193.90" width="57.58" height="14.55" fill="rgb(150,195,228)" filter="url(#f107)"/>
<rect x="568.25" y="193.90" width="57.58" height="14.55" fill="rgb(35,110,178)" filter="url(#f108)"/>
<rect x="568.25" y="208.40" width="57.58" height="14.55" fill="rgb(234,243,251)"/>
<rect x="568.25" y="208.40" width="57.58" height="14.55" fill="rgb(150,195,228)" filter="url(#f107)"/>
<rect x="568.25" y="208.40" width="57.58" height="14.55" fill="rgb(35,110,178)" filter="url(#f108)"/>
<rect x="568.25" y="222.90" width="57.58" height="14.50" fill="rgb(234,243,251)"/>
<rect x="568.25" y="222.90" width="57.58" height="14.50" fill="rgb(150,195,228)" filter="url(#f107)"/>
<rect x="568.25" y="222.90" width="57.58" height="14.50" fill="rgb(35,110,178)" filter="url(#f108)"/>
<rect x="625.77" y="179.40" width="57.58" height="14.55" fill="rgb(232,241,250)"/>
<rect x="625.77" y="179.40" width="57.58" height="14.55" fill="rgb(150,195,228)" filter="url(#f109)"/>
<rect x="625.77" y="179.40" width="57.58" height="14.55" fill="rgb(35,110,178)" filter="url(#f110)"/>
<rect x="625.77" y="193.90" width="57.58" height="14.55" fill="rgb(232,241,250)"/>
<rect x="625.77" y="193.90" width="57.58" height="14.55" fill="rgb(150,195,228)" filter="url(#f111)"/>
<rect x="625.77" y="193.90" width="57.58" height="14.55" fill="rgb(35,110,178)" filter="url(#f112)"/>
<rect x="625.77" y="208.40" width="57.58" height="14.55" fill="rgb(232,241,250)"/>
<rect x="625.77" y="208.40" width="57.58" height="14.55" fill="rgb(150,195,228)" filter="url(#f111)"/>
<rect x="625.77" y="208.40" width="57.58" height="14.55" fill="rgb(35,110,178)" filter="url(#f113)"/>
<rect x="625.77" y="222.90" width="57.58" height="14.50" fill="rgb(232,241,250)"/>
<rect x="625.77" y="222.90" width="57.58" height="14.50" fill="rgb(150,195,228)" filter="url(#f114)"/>
<rect x="625.77" y="222.90" width="57.58" height="14.50" fill="rgb(35,110,178)" filter="url(#f113)"/>
<rect x="50.50" y="179.40" width="632.80" height="58.00" fill="none" stroke="#2a2a2a" stroke-width="1.30"/>
<line x1="44.6" x2="50.50" y1="179.80" y2="179.80" stroke="#2a2a2a" stroke-width="1.30"/>
<line x1="44.6" x2="50.50" y1="235.10" y2="235.10" stroke="#2a2a2a" stroke-width="1.30"/>
<line x1="50.50" x2="50.50" y1="237.40" y2="243.40" stroke="#2a2a2a" stroke-width="1.30"/>
<line x1="161.50" x2="161.50" y1="237.40" y2="243.40" stroke="#2a2a2a" stroke-width="1.30"/>
<line x1="273.40" x2="273.40" y1="237.40" y2="243.40" stroke="#2a2a2a" stroke-width="1.30"/>
<line x1="384.50" x2="384.50" y1="237.40" y2="243.40" stroke="#2a2a2a" stroke-width="1.30"/>
<line x1="496.00" x2="496.00" y1="237.40" y2="243.40" stroke="#2a2a2a" stroke-width="1.30"/>
<line x1="607.40" x2="607.40" y1="237.40" y2="243.40" stroke="#2a2a2a" stroke-width="1.30"/>
<text x="0" y="0" font-size="19.4" text-anchor="middle" transform="translate(28.2,30.95) rotate(-90)">ref</text>
<text x="0" y="0" font-size="19.4" text-anchor="middle" transform="translate(28.2,119.45) rotate(-90)">gen</text>
<text x="0" y="0" font-size="19.4" text-anchor="middle" transform="translate(28.2,208.40) rotate(-90)">std</text>
<line x1="165.55" x2="165.55" y1="260.30" y2="333.70" stroke="#dcdcdc" stroke-width="0.8"/>
<line x1="280.61" x2="280.61" y1="260.30" y2="333.70" stroke="#dcdcdc" stroke-width="0.8"/>
<line x1="395.66" x2="395.66" y1="260.30" y2="333.70" stroke="#dcdcdc" stroke-width="0.8"/>
<line x1="510.72" x2="510.72" y1="260.30" y2="333.70" stroke="#dcdcdc" stroke-width="0.8"/>
<line x1="625.77" x2="625.77" y1="260.30" y2="333.70" stroke="#dcdcdc" stroke-width="0.8"/>
<line x1="50.50" x2="683.30" y1="297.00" y2="297.00" stroke="#dcdcdc" stroke-width="0.8"/>
<polyline points="79.26,300.96 136.79,303.61 194.32,322.84 251.85,298.61 309.37,299.20 366.90,298.47 424.43,296.63 481.95,294.80 539.48,294.80 597.01,291.13 654.54,292.38" fill="none" stroke="#f2306a" stroke-width="2.5" stroke-linejoin="round" stroke-linecap="square"/>
<polyline points="79.26,306.54 136.79,303.61 194.32,260.30 251.85,313.88 309.37,316.67 366.90,316.30 424.43,319.02 481.95,315.35 539.48,323.50 597.01,325.11 654.54,331.42" fill="none" stroke="#2b63ee" stroke-width="2.5" stroke-linejoin="round" stroke-linecap="square"/>
<rect x="597.5" y="302.2" width="80.7" height="26.4" rx="2" fill="#fff" fill-opacity="0.8" stroke="#d0d0d0" stroke-width="0.8"/>
<line x1="599.4" x2="620" y1="308.5" y2="308.5" stroke="#f2306a" stroke-width="2.5"/>
<line x1="599.4" x2="620" y1="320.8" y2="320.8" stroke="#2b63ee" stroke-width="2.5"/>
<text x="625.6" y="312.1" font-size="8.9" textLength="33.3" lengthAdjust="spacingAndGlyphs">LPIPS</text>
<text x="625.6" y="324.4" font-size="8.9" textLength="48.2" lengthAdjust="spacingAndGlyphs">MS-SSIM</text>
<rect x="50.50" y="260.30" width="632.80" height="73.40" fill="none" stroke="#2a2a2a" stroke-width="1.30"/>
<line x1="44.6" x2="50.50" y1="333.70" y2="333.70" stroke="#2a2a2a" stroke-width="1.30"/>
<text x="37.6" y="339.60" font-size="19.0" text-anchor="end">0.0</text>
<line x1="44.6" x2="50.50" y1="297.00" y2="297.00" stroke="#2a2a2a" stroke-width="1.30"/>
<text x="37.6" y="302.90" font-size="19.0" text-anchor="end">0.5</text>
<line x1="44.6" x2="50.50" y1="260.30" y2="260.30" stroke="#2a2a2a" stroke-width="1.30"/>
<text x="37.6" y="266.20" font-size="19.0" text-anchor="end">1.0</text>
<line x1="50.50" x2="50.50" y1="333.70" y2="339.70" stroke="#2a2a2a" stroke-width="1.30"/>
<line x1="165.55" x2="165.55" y1="333.70" y2="339.70" stroke="#2a2a2a" stroke-width="1.30"/>
<line x1="280.61" x2="280.61" y1="333.70" y2="339.70" stroke="#2a2a2a" stroke-width="1.30"/>
<line x1="395.66" x2="395.66" y1="333.70" y2="339.70" stroke="#2a2a2a" stroke-width="1.30"/>
<line x1="510.72" x2="510.72" y1="333.70" y2="339.70" stroke="#2a2a2a" stroke-width="1.30"/>
<line x1="625.77" x2="625.77" y1="333.70" y2="339.70" stroke="#2a2a2a" stroke-width="1.30"/>
<line x1="79.26" x2="79.26" y1="349.00" y2="422.20" stroke="#dcdcdc" stroke-width="0.8"/>
<line x1="136.79" x2="136.79" y1="349.00" y2="422.20" stroke="#dcdcdc" stroke-width="0.8"/>
<line x1="194.32" x2="194.32" y1="349.00" y2="422.20" stroke="#dcdcdc" stroke-width="0.8"/>
<line x1="251.85" x2="251.85" y1="349.00" y2="422.20" stroke="#dcdcdc" stroke-width="0.8"/>
<line x1="309.37" x2="309.37" y1="349.00" y2="422.20" stroke="#dcdcdc" stroke-width="0.8"/>
<line x1="366.90" x2="366.90" y1="349.00" y2="422.20" stroke="#dcdcdc" stroke-width="0.8"/>
<line x1="424.43" x2="424.43" y1="349.00" y2="422.20" stroke="#dcdcdc" stroke-width="0.8"/>
<line x1="481.95" x2="481.95" y1="349.00" y2="422.20" stroke="#dcdcdc" stroke-width="0.8"/>
<line x1="539.48" x2="539.48" y1="349.00" y2="422.20" stroke="#dcdcdc" stroke-width="0.8"/>
<line x1="597.01" x2="597.01" y1="349.00" y2="422.20" stroke="#dcdcdc" stroke-width="0.8"/>
<line x1="654.54" x2="654.54" y1="349.00" y2="422.20" stroke="#dcdcdc" stroke-width="0.8"/>
<line x1="50.50" x2="683.30" y1="356.48" y2="356.48" stroke="#dcdcdc" stroke-width="0.8"/>
<line x1="50.50" x2="683.30" y1="389.10" y2="389.10" stroke="#dcdcdc" stroke-width="0.8"/>
<line x1="50.50" x2="683.30" y1="421.73" y2="421.73" stroke="#dcdcdc" stroke-width="0.8"/>
<polyline points="79.26,388.71 136.79,388.06 194.32,389.62 251.85,388.19 309.37,386.75 366.90,387.93 424.43,385.84 481.95,393.28 539.48,394.84 597.01,351.78 654.54,373.96" fill="none" stroke="#94a928" stroke-width="2.5" stroke-linejoin="round" stroke-linecap="square"/>
<polyline points="79.26,388.71 136.79,388.06 194.32,389.62 251.85,390.01 309.37,389.36 366.90,389.36 424.43,388.84 481.95,387.66 539.48,384.40 597.01,419.90 654.54,401.50" fill="none" stroke="#26a393" stroke-width="2.5" stroke-linejoin="round" stroke-linecap="square"/>
<rect x="514.6" y="387.6" width="163.4" height="29.8" rx="2" fill="#fff" fill-opacity="0.8" stroke="#d0d0d0" stroke-width="0.8"/>
<line x1="515.9" x2="536.9" y1="394.3" y2="394.3" stroke="#94a928" stroke-width="2.5"/>
<line x1="515.9" x2="536.9" y1="408.2" y2="408.2" stroke="#26a393" stroke-width="2.5"/>
<text x="542.6" y="397.6" font-size="8.7" textLength="26.7" lengthAdjust="spacingAndGlyphs">ΔBM</text>
<text x="570.6" y="400.3" font-size="8.7" textLength="17.4" lengthAdjust="spacingAndGlyphs">SW</text>
<text x="594.6" y="398.2" font-size="9.2" textLength="44.3" lengthAdjust="spacingAndGlyphs">(gen-ref)</text>
<text x="644.5" y="398.2" font-size="9.2" textLength="28.9" lengthAdjust="spacingAndGlyphs">[t/ha]</text>
<text x="542.6" y="411.6" font-size="8.7" textLength="26.7" lengthAdjust="spacingAndGlyphs">ΔBM</text>
<text x="570.6" y="414.3" font-size="8.7" textLength="14.9" lengthAdjust="spacingAndGlyphs">FB</text>
<text x="592.0" y="412.2" font-size="9.2" textLength="44.3" lengthAdjust="spacingAndGlyphs">(gen-ref)</text>
<text x="641.9" y="412.2" font-size="9.2" textLength="28.0" lengthAdjust="spacingAndGlyphs">[t/ha]</text>
<rect x="50.50" y="349.00" width="632.80" height="73.20" fill="none" stroke="#2a2a2a" stroke-width="1.30"/>
<rect x="1.5" y="422.4" width="10.5" height="1.15" fill="#000"/>
<line x1="44.6" x2="50.50" y1="356.48" y2="356.48" stroke="#2a2a2a" stroke-width="1.30"/>
<text x="37.6" y="362.38" font-size="19.0" text-anchor="end">2.5</text>
<line x1="44.6" x2="50.50" y1="389.10" y2="389.10" stroke="#2a2a2a" stroke-width="1.30"/>
<text x="37.6" y="395.00" font-size="19.0" text-anchor="end">0.0</text>
<line x1="44.6" x2="50.50" y1="421.73" y2="421.73" stroke="#2a2a2a" stroke-width="1.30"/>
<text x="37.6" y="427.62" font-size="19.0" text-anchor="end">2.5</text>
<line x1="79.26" x2="79.26" y1="422.20" y2="428.20" stroke="#2a2a2a" stroke-width="1.30"/>
<text x="79.26" y="447.3" font-size="19.4" text-anchor="middle">7</text>
<line x1="136.79" x2="136.79" y1="422.20" y2="428.20" stroke="#2a2a2a" stroke-width="1.30"/>
<text x="136.79" y="447.3" font-size="19.4" text-anchor="middle">28</text>
<line x1="194.32" x2="194.32" y1="422.20" y2="428.20" stroke="#2a2a2a" stroke-width="1.30"/>
<text x="194.32" y="447.3" font-size="19.4" text-anchor="middle">42</text>
<line x1="251.85" x2="251.85" y1="422.20" y2="428.20" stroke="#2a2a2a" stroke-width="1.30"/>
<text x="251.85" y="447.3" font-size="19.4" text-anchor="middle">54</text>
<line x1="309.37" x2="309.37" y1="422.20" y2="428.20" stroke="#2a2a2a" stroke-width="1.30"/>
<text x="309.37" y="447.3" font-size="19.4" text-anchor="middle">64</text>
<line x1="366.90" x2="366.90" y1="422.20" y2="428.20" stroke="#2a2a2a" stroke-width="1.30"/>
<text x="366.90" y="447.3" font-size="19.4" text-anchor="middle">71</text>
<line x1="424.43" x2="424.43" y1="422.20" y2="428.20" stroke="#2a2a2a" stroke-width="1.30"/>
<text x="424.43" y="447.3" font-size="19.4" text-anchor="middle">74</text>
<line x1="481.95" x2="481.95" y1="422.20" y2="428.20" stroke="#2a2a2a" stroke-width="1.30"/>
<text x="481.95" y="447.3" font-size="19.4" text-anchor="middle">82</text>
<line x1="539.48" x2="539.48" y1="422.20" y2="428.20" stroke="#2a2a2a" stroke-width="1.30"/>
<text x="539.48" y="447.3" font-size="19.4" text-anchor="middle">99</text>
<line x1="597.01" x2="597.01" y1="422.20" y2="428.20" stroke="#2a2a2a" stroke-width="1.30"/>
<text x="597.01" y="447.3" font-size="19.4" text-anchor="middle">117</text>
<line x1="654.54" x2="654.54" y1="422.20" y2="428.20" stroke="#2a2a2a" stroke-width="1.30"/>
<text x="654.54" y="447.3" font-size="19.4" text-anchor="middle">119</text>
<text x="366.3" y="472" font-size="19.1" text-anchor="middle">days after sowing (DAS)</text>
</svg></body></html>
